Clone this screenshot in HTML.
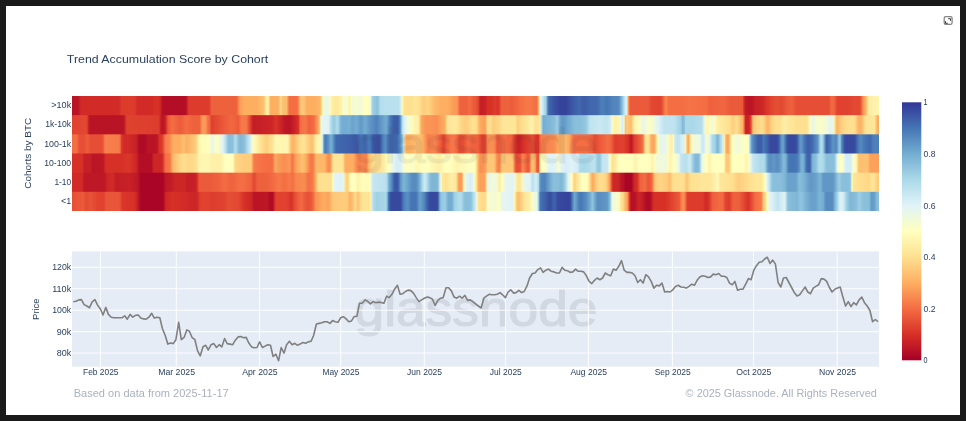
<!DOCTYPE html>
<html><head><meta charset="utf-8"><title>Trend Accumulation Score by Cohort</title>
<style>html,body{margin:0;padding:0;background:#1a1a1a;}svg{display:block;}text{font-family:"Liberation Sans",sans-serif;}</style>
</head><body>
<svg width="966" height="421" viewBox="0 0 966 421">
<defs><linearGradient id="r0" x1="0" x2="1" y1="0" y2="0"><stop offset="0.0000" stop-color="#b91326"/><stop offset="0.0019" stop-color="#b91326"/><stop offset="0.0037" stop-color="#b91326"/><stop offset="0.0056" stop-color="#b91326"/><stop offset="0.0074" stop-color="#b91426"/><stop offset="0.0093" stop-color="#c61f27"/><stop offset="0.0112" stop-color="#d22b27"/><stop offset="0.0130" stop-color="#d22b27"/><stop offset="0.0149" stop-color="#d22b27"/><stop offset="0.0167" stop-color="#d22b27"/><stop offset="0.0186" stop-color="#d22b27"/><stop offset="0.0204" stop-color="#d22b27"/><stop offset="0.0223" stop-color="#d22b27"/><stop offset="0.0242" stop-color="#d22b27"/><stop offset="0.0260" stop-color="#d22b27"/><stop offset="0.0279" stop-color="#d22b27"/><stop offset="0.0297" stop-color="#d22b27"/><stop offset="0.0316" stop-color="#d22b27"/><stop offset="0.0335" stop-color="#d22b27"/><stop offset="0.0353" stop-color="#d22b27"/><stop offset="0.0372" stop-color="#d22b27"/><stop offset="0.0390" stop-color="#d22b27"/><stop offset="0.0409" stop-color="#d22b27"/><stop offset="0.0428" stop-color="#d22b27"/><stop offset="0.0446" stop-color="#d22b27"/><stop offset="0.0465" stop-color="#d22b27"/><stop offset="0.0483" stop-color="#d22b27"/><stop offset="0.0502" stop-color="#d22b27"/><stop offset="0.0520" stop-color="#d22b27"/><stop offset="0.0539" stop-color="#d22b27"/><stop offset="0.0558" stop-color="#d22b27"/><stop offset="0.0576" stop-color="#d22b27"/><stop offset="0.0595" stop-color="#d83128"/><stop offset="0.0613" stop-color="#dc3b2c"/><stop offset="0.0632" stop-color="#dd3c2d"/><stop offset="0.0651" stop-color="#dd3c2d"/><stop offset="0.0669" stop-color="#dd3c2d"/><stop offset="0.0688" stop-color="#dd3c2d"/><stop offset="0.0706" stop-color="#dd3c2d"/><stop offset="0.0725" stop-color="#dd3c2d"/><stop offset="0.0743" stop-color="#dd3c2d"/><stop offset="0.0762" stop-color="#dd3c2d"/><stop offset="0.0781" stop-color="#dc3a2c"/><stop offset="0.0799" stop-color="#d62f27"/><stop offset="0.0818" stop-color="#d22b27"/><stop offset="0.0836" stop-color="#d22b27"/><stop offset="0.0855" stop-color="#d22b27"/><stop offset="0.0874" stop-color="#d22b27"/><stop offset="0.0892" stop-color="#d22b27"/><stop offset="0.0911" stop-color="#d22b27"/><stop offset="0.0929" stop-color="#d22b27"/><stop offset="0.0948" stop-color="#d22b27"/><stop offset="0.0967" stop-color="#d22b27"/><stop offset="0.0985" stop-color="#d22b27"/><stop offset="0.1004" stop-color="#d42d27"/><stop offset="0.1022" stop-color="#d73027"/><stop offset="0.1041" stop-color="#d73027"/><stop offset="0.1059" stop-color="#d73027"/><stop offset="0.1078" stop-color="#d73027"/><stop offset="0.1097" stop-color="#cd2627"/><stop offset="0.1115" stop-color="#b61126"/><stop offset="0.1134" stop-color="#b40e26"/><stop offset="0.1152" stop-color="#b40e26"/><stop offset="0.1171" stop-color="#b40e26"/><stop offset="0.1190" stop-color="#b40e26"/><stop offset="0.1208" stop-color="#b40e26"/><stop offset="0.1227" stop-color="#b40e26"/><stop offset="0.1245" stop-color="#b40e26"/><stop offset="0.1264" stop-color="#b40e26"/><stop offset="0.1283" stop-color="#b40e26"/><stop offset="0.1301" stop-color="#b40e26"/><stop offset="0.1320" stop-color="#b40e26"/><stop offset="0.1338" stop-color="#b40e26"/><stop offset="0.1357" stop-color="#b40e26"/><stop offset="0.1375" stop-color="#b40e26"/><stop offset="0.1394" stop-color="#b40e26"/><stop offset="0.1413" stop-color="#b61026"/><stop offset="0.1431" stop-color="#cd2727"/><stop offset="0.1450" stop-color="#dd3c2d"/><stop offset="0.1468" stop-color="#dd3c2d"/><stop offset="0.1487" stop-color="#dd3c2d"/><stop offset="0.1506" stop-color="#dd3c2d"/><stop offset="0.1524" stop-color="#dd3c2d"/><stop offset="0.1543" stop-color="#dd3c2d"/><stop offset="0.1561" stop-color="#dd3c2d"/><stop offset="0.1580" stop-color="#dd3c2d"/><stop offset="0.1599" stop-color="#dd3c2d"/><stop offset="0.1617" stop-color="#dd3c2d"/><stop offset="0.1636" stop-color="#dd3c2d"/><stop offset="0.1654" stop-color="#dd3c2d"/><stop offset="0.1673" stop-color="#dd3c2d"/><stop offset="0.1691" stop-color="#dd3c2d"/><stop offset="0.1710" stop-color="#e14531"/><stop offset="0.1729" stop-color="#ee613d"/><stop offset="0.1747" stop-color="#ee613d"/><stop offset="0.1766" stop-color="#ee613d"/><stop offset="0.1784" stop-color="#ee613d"/><stop offset="0.1803" stop-color="#ee613d"/><stop offset="0.1822" stop-color="#ee613d"/><stop offset="0.1840" stop-color="#ee613d"/><stop offset="0.1859" stop-color="#ee613d"/><stop offset="0.1877" stop-color="#ee613d"/><stop offset="0.1896" stop-color="#ee613d"/><stop offset="0.1914" stop-color="#ee613d"/><stop offset="0.1933" stop-color="#ee613d"/><stop offset="0.1952" stop-color="#ee613d"/><stop offset="0.1970" stop-color="#ee613d"/><stop offset="0.1989" stop-color="#ee613d"/><stop offset="0.2007" stop-color="#ee613d"/><stop offset="0.2026" stop-color="#ee613d"/><stop offset="0.2045" stop-color="#f0643f"/><stop offset="0.2063" stop-color="#f7854e"/><stop offset="0.2082" stop-color="#fb9d59"/><stop offset="0.2100" stop-color="#fba35c"/><stop offset="0.2119" stop-color="#fca95f"/><stop offset="0.2138" stop-color="#fdae61"/><stop offset="0.2156" stop-color="#fdae61"/><stop offset="0.2175" stop-color="#fdae61"/><stop offset="0.2193" stop-color="#fdae61"/><stop offset="0.2212" stop-color="#fdae61"/><stop offset="0.2230" stop-color="#fdae61"/><stop offset="0.2249" stop-color="#fdae61"/><stop offset="0.2268" stop-color="#fdae61"/><stop offset="0.2286" stop-color="#fdae61"/><stop offset="0.2305" stop-color="#fdb063"/><stop offset="0.2323" stop-color="#fdb567"/><stop offset="0.2342" stop-color="#fdb96b"/><stop offset="0.2361" stop-color="#fdbd6f"/><stop offset="0.2379" stop-color="#fdc375"/><stop offset="0.2398" stop-color="#fee191"/><stop offset="0.2416" stop-color="#feefa7"/><stop offset="0.2435" stop-color="#feeba1"/><stop offset="0.2454" stop-color="#fdb668"/><stop offset="0.2472" stop-color="#fdae61"/><stop offset="0.2491" stop-color="#fdae61"/><stop offset="0.2509" stop-color="#fdae61"/><stop offset="0.2528" stop-color="#fdae61"/><stop offset="0.2546" stop-color="#fdae61"/><stop offset="0.2565" stop-color="#fdb96b"/><stop offset="0.2584" stop-color="#fed788"/><stop offset="0.2602" stop-color="#fecb7c"/><stop offset="0.2621" stop-color="#fdbd6f"/><stop offset="0.2639" stop-color="#fdbd6f"/><stop offset="0.2658" stop-color="#fdbd6f"/><stop offset="0.2677" stop-color="#f98f53"/><stop offset="0.2695" stop-color="#f46d43"/><stop offset="0.2714" stop-color="#f46d43"/><stop offset="0.2732" stop-color="#f46d43"/><stop offset="0.2751" stop-color="#f46d43"/><stop offset="0.2770" stop-color="#f46d43"/><stop offset="0.2788" stop-color="#f46d43"/><stop offset="0.2807" stop-color="#f88a50"/><stop offset="0.2825" stop-color="#fdbc6e"/><stop offset="0.2844" stop-color="#fdc677"/><stop offset="0.2862" stop-color="#feca7b"/><stop offset="0.2881" stop-color="#fdc172"/><stop offset="0.2900" stop-color="#fdb669"/><stop offset="0.2918" stop-color="#fdae61"/><stop offset="0.2937" stop-color="#fdae61"/><stop offset="0.2955" stop-color="#fdae61"/><stop offset="0.2974" stop-color="#fdae61"/><stop offset="0.2993" stop-color="#fdae61"/><stop offset="0.3011" stop-color="#fdae61"/><stop offset="0.3030" stop-color="#fdb062"/><stop offset="0.3048" stop-color="#fdb365"/><stop offset="0.3067" stop-color="#fdb668"/><stop offset="0.3086" stop-color="#fec779"/><stop offset="0.3104" stop-color="#fff5af"/><stop offset="0.3123" stop-color="#f3fbd4"/><stop offset="0.3141" stop-color="#eaf7e6"/><stop offset="0.3160" stop-color="#e9f7e7"/><stop offset="0.3178" stop-color="#ebf7e4"/><stop offset="0.3197" stop-color="#fcfec5"/><stop offset="0.3216" stop-color="#fff1a9"/><stop offset="0.3234" stop-color="#feeca2"/><stop offset="0.3253" stop-color="#fee99d"/><stop offset="0.3271" stop-color="#fee79b"/><stop offset="0.3290" stop-color="#feea9f"/><stop offset="0.3309" stop-color="#feeda4"/><stop offset="0.3327" stop-color="#fff1a9"/><stop offset="0.3346" stop-color="#fff4ae"/><stop offset="0.3364" stop-color="#fffebe"/><stop offset="0.3383" stop-color="#eff9dc"/><stop offset="0.3401" stop-color="#f6fbd0"/><stop offset="0.3420" stop-color="#fffcbb"/><stop offset="0.3439" stop-color="#fef0a8"/><stop offset="0.3457" stop-color="#fffebe"/><stop offset="0.3476" stop-color="#f5fbd1"/><stop offset="0.3494" stop-color="#f5fbd1"/><stop offset="0.3513" stop-color="#f5fbd2"/><stop offset="0.3532" stop-color="#f4fbd3"/><stop offset="0.3550" stop-color="#f4fbd4"/><stop offset="0.3569" stop-color="#f3fad5"/><stop offset="0.3587" stop-color="#f3fad5"/><stop offset="0.3606" stop-color="#f7fcce"/><stop offset="0.3625" stop-color="#feffc0"/><stop offset="0.3643" stop-color="#ffffbf"/><stop offset="0.3662" stop-color="#ffffbf"/><stop offset="0.3680" stop-color="#ffffbf"/><stop offset="0.3699" stop-color="#f0f9db"/><stop offset="0.3717" stop-color="#a9d8e8"/><stop offset="0.3736" stop-color="#9bcce2"/><stop offset="0.3755" stop-color="#95c8e0"/><stop offset="0.3773" stop-color="#90c3dd"/><stop offset="0.3792" stop-color="#8ec2dc"/><stop offset="0.3810" stop-color="#a9d7e8"/><stop offset="0.3829" stop-color="#b6deec"/><stop offset="0.3848" stop-color="#b6dfec"/><stop offset="0.3866" stop-color="#b7dfec"/><stop offset="0.3885" stop-color="#b7dfec"/><stop offset="0.3903" stop-color="#b7dfed"/><stop offset="0.3922" stop-color="#b8dfed"/><stop offset="0.3941" stop-color="#b8dfed"/><stop offset="0.3959" stop-color="#b9e0ed"/><stop offset="0.3978" stop-color="#b9e0ed"/><stop offset="0.3996" stop-color="#b9e0ed"/><stop offset="0.4015" stop-color="#bae0ed"/><stop offset="0.4033" stop-color="#bae0ed"/><stop offset="0.4052" stop-color="#bbe1ed"/><stop offset="0.4071" stop-color="#d2ecf4"/><stop offset="0.4089" stop-color="#fffbb8"/><stop offset="0.4108" stop-color="#fee99e"/><stop offset="0.4126" stop-color="#fee192"/><stop offset="0.4145" stop-color="#fee090"/><stop offset="0.4164" stop-color="#fee090"/><stop offset="0.4182" stop-color="#fee090"/><stop offset="0.4201" stop-color="#fee091"/><stop offset="0.4219" stop-color="#fee294"/><stop offset="0.4238" stop-color="#fee597"/><stop offset="0.4257" stop-color="#fee698"/><stop offset="0.4275" stop-color="#fee495"/><stop offset="0.4294" stop-color="#fee192"/><stop offset="0.4312" stop-color="#fedd8d"/><stop offset="0.4331" stop-color="#fed687"/><stop offset="0.4349" stop-color="#fecf80"/><stop offset="0.4368" stop-color="#fece7f"/><stop offset="0.4387" stop-color="#fed182"/><stop offset="0.4405" stop-color="#fed585"/><stop offset="0.4424" stop-color="#fed282"/><stop offset="0.4442" stop-color="#fecb7c"/><stop offset="0.4461" stop-color="#fdc576"/><stop offset="0.4480" stop-color="#fdbe70"/><stop offset="0.4498" stop-color="#fdba6d"/><stop offset="0.4517" stop-color="#fdb76a"/><stop offset="0.4535" stop-color="#fdb467"/><stop offset="0.4554" stop-color="#fdb164"/><stop offset="0.4572" stop-color="#fdae61"/><stop offset="0.4591" stop-color="#fdae61"/><stop offset="0.4610" stop-color="#fdae61"/><stop offset="0.4628" stop-color="#fdae61"/><stop offset="0.4647" stop-color="#fdae61"/><stop offset="0.4665" stop-color="#fdac60"/><stop offset="0.4684" stop-color="#fca75e"/><stop offset="0.4703" stop-color="#fba25b"/><stop offset="0.4721" stop-color="#fb9d59"/><stop offset="0.4740" stop-color="#fa9a58"/><stop offset="0.4758" stop-color="#fa9a58"/><stop offset="0.4777" stop-color="#f99254"/><stop offset="0.4796" stop-color="#f46d43"/><stop offset="0.4814" stop-color="#ee613d"/><stop offset="0.4833" stop-color="#ee613d"/><stop offset="0.4851" stop-color="#ee613d"/><stop offset="0.4870" stop-color="#ee613d"/><stop offset="0.4888" stop-color="#ee613e"/><stop offset="0.4907" stop-color="#f16740"/><stop offset="0.4926" stop-color="#f36c42"/><stop offset="0.4944" stop-color="#f16640"/><stop offset="0.4963" stop-color="#ee603d"/><stop offset="0.4981" stop-color="#ec5b3b"/><stop offset="0.5000" stop-color="#e95739"/><stop offset="0.5019" stop-color="#e75236"/><stop offset="0.5037" stop-color="#df412f"/><stop offset="0.5056" stop-color="#c82227"/><stop offset="0.5074" stop-color="#c41e27"/><stop offset="0.5093" stop-color="#c51f27"/><stop offset="0.5112" stop-color="#c72027"/><stop offset="0.5130" stop-color="#cc2527"/><stop offset="0.5149" stop-color="#d73027"/><stop offset="0.5167" stop-color="#d73027"/><stop offset="0.5186" stop-color="#d73027"/><stop offset="0.5204" stop-color="#d83228"/><stop offset="0.5223" stop-color="#db382b"/><stop offset="0.5242" stop-color="#dc3b2c"/><stop offset="0.5260" stop-color="#da372a"/><stop offset="0.5279" stop-color="#d83228"/><stop offset="0.5297" stop-color="#de3f2e"/><stop offset="0.5316" stop-color="#ed5d3c"/><stop offset="0.5335" stop-color="#ee613d"/><stop offset="0.5353" stop-color="#ee613d"/><stop offset="0.5372" stop-color="#ee613d"/><stop offset="0.5390" stop-color="#ee613d"/><stop offset="0.5409" stop-color="#ee613d"/><stop offset="0.5428" stop-color="#ed5e3c"/><stop offset="0.5446" stop-color="#ec5c3b"/><stop offset="0.5465" stop-color="#ed5d3c"/><stop offset="0.5483" stop-color="#ee613d"/><stop offset="0.5502" stop-color="#f0643f"/><stop offset="0.5520" stop-color="#f16740"/><stop offset="0.5539" stop-color="#f36a42"/><stop offset="0.5558" stop-color="#f46d43"/><stop offset="0.5576" stop-color="#f47044"/><stop offset="0.5595" stop-color="#f57346"/><stop offset="0.5613" stop-color="#f57647"/><stop offset="0.5632" stop-color="#f67848"/><stop offset="0.5651" stop-color="#f67949"/><stop offset="0.5669" stop-color="#f57748"/><stop offset="0.5688" stop-color="#f57647"/><stop offset="0.5706" stop-color="#f57446"/><stop offset="0.5725" stop-color="#f57245"/><stop offset="0.5743" stop-color="#f47044"/><stop offset="0.5762" stop-color="#f46e44"/><stop offset="0.5781" stop-color="#fdb466"/><stop offset="0.5799" stop-color="#e8f6ea"/><stop offset="0.5818" stop-color="#dcf1f7"/><stop offset="0.5836" stop-color="#cae8f2"/><stop offset="0.5855" stop-color="#aedbea"/><stop offset="0.5874" stop-color="#a4d3e6"/><stop offset="0.5892" stop-color="#598cc0"/><stop offset="0.5911" stop-color="#4064ac"/><stop offset="0.5929" stop-color="#3e5fa9"/><stop offset="0.5948" stop-color="#3c59a6"/><stop offset="0.5967" stop-color="#3b55a4"/><stop offset="0.5985" stop-color="#3951a2"/><stop offset="0.6004" stop-color="#384da0"/><stop offset="0.6022" stop-color="#37499e"/><stop offset="0.6041" stop-color="#36459c"/><stop offset="0.6059" stop-color="#35439b"/><stop offset="0.6078" stop-color="#35439b"/><stop offset="0.6097" stop-color="#35439b"/><stop offset="0.6115" stop-color="#35439b"/><stop offset="0.6134" stop-color="#36469d"/><stop offset="0.6152" stop-color="#384b9f"/><stop offset="0.6171" stop-color="#3950a2"/><stop offset="0.6190" stop-color="#3b55a4"/><stop offset="0.6208" stop-color="#3c59a6"/><stop offset="0.6227" stop-color="#3d5da8"/><stop offset="0.6245" stop-color="#3f61aa"/><stop offset="0.6264" stop-color="#4065ac"/><stop offset="0.6283" stop-color="#4168ad"/><stop offset="0.6301" stop-color="#4065ac"/><stop offset="0.6320" stop-color="#3f61aa"/><stop offset="0.6338" stop-color="#3e5ea9"/><stop offset="0.6357" stop-color="#3d5da8"/><stop offset="0.6375" stop-color="#3e60aa"/><stop offset="0.6394" stop-color="#3f63ab"/><stop offset="0.6413" stop-color="#4067ad"/><stop offset="0.6431" stop-color="#4168ae"/><stop offset="0.6450" stop-color="#4168ae"/><stop offset="0.6468" stop-color="#4168ae"/><stop offset="0.6487" stop-color="#4168ae"/><stop offset="0.6506" stop-color="#4169ae"/><stop offset="0.6524" stop-color="#436fb1"/><stop offset="0.6543" stop-color="#4777b5"/><stop offset="0.6561" stop-color="#4d7eb9"/><stop offset="0.6580" stop-color="#4c7eb8"/><stop offset="0.6599" stop-color="#4a7bb7"/><stop offset="0.6617" stop-color="#4778b5"/><stop offset="0.6636" stop-color="#4676b4"/><stop offset="0.6654" stop-color="#497ab6"/><stop offset="0.6673" stop-color="#4d7eb9"/><stop offset="0.6691" stop-color="#5082bb"/><stop offset="0.6710" stop-color="#5386bd"/><stop offset="0.6729" stop-color="#5386bd"/><stop offset="0.6747" stop-color="#5386bd"/><stop offset="0.6766" stop-color="#5386bd"/><stop offset="0.6784" stop-color="#5d92c3"/><stop offset="0.6803" stop-color="#74add1"/><stop offset="0.6822" stop-color="#90c3dd"/><stop offset="0.6840" stop-color="#b3ddeb"/><stop offset="0.6859" stop-color="#d5eef5"/><stop offset="0.6877" stop-color="#d7eff5"/><stop offset="0.6896" stop-color="#fa9555"/><stop offset="0.6914" stop-color="#eb5b3b"/><stop offset="0.6933" stop-color="#eb5b3b"/><stop offset="0.6952" stop-color="#eb5b3b"/><stop offset="0.6970" stop-color="#eb5b3b"/><stop offset="0.6989" stop-color="#eb5b3b"/><stop offset="0.7007" stop-color="#eb5b3b"/><stop offset="0.7026" stop-color="#eb5b3b"/><stop offset="0.7045" stop-color="#eb5b3b"/><stop offset="0.7063" stop-color="#eb5b3b"/><stop offset="0.7082" stop-color="#eb5b3b"/><stop offset="0.7100" stop-color="#eb5b3b"/><stop offset="0.7119" stop-color="#eb5b3b"/><stop offset="0.7138" stop-color="#eb5a3a"/><stop offset="0.7156" stop-color="#e85337"/><stop offset="0.7175" stop-color="#e34a33"/><stop offset="0.7193" stop-color="#e24832"/><stop offset="0.7212" stop-color="#e24731"/><stop offset="0.7230" stop-color="#e14631"/><stop offset="0.7249" stop-color="#e14531"/><stop offset="0.7268" stop-color="#e04430"/><stop offset="0.7286" stop-color="#e04330"/><stop offset="0.7305" stop-color="#e34932"/><stop offset="0.7323" stop-color="#ed5e3c"/><stop offset="0.7342" stop-color="#f57546"/><stop offset="0.7361" stop-color="#f8884f"/><stop offset="0.7379" stop-color="#f67949"/><stop offset="0.7398" stop-color="#f46d43"/><stop offset="0.7416" stop-color="#f46d43"/><stop offset="0.7435" stop-color="#f46d43"/><stop offset="0.7454" stop-color="#f46d43"/><stop offset="0.7472" stop-color="#f46d43"/><stop offset="0.7491" stop-color="#f46d43"/><stop offset="0.7509" stop-color="#f46d43"/><stop offset="0.7528" stop-color="#f46d43"/><stop offset="0.7546" stop-color="#f46d43"/><stop offset="0.7565" stop-color="#f46e44"/><stop offset="0.7584" stop-color="#f47044"/><stop offset="0.7602" stop-color="#f57145"/><stop offset="0.7621" stop-color="#f57245"/><stop offset="0.7639" stop-color="#f57346"/><stop offset="0.7658" stop-color="#f57346"/><stop offset="0.7677" stop-color="#f57245"/><stop offset="0.7695" stop-color="#f57245"/><stop offset="0.7714" stop-color="#f57145"/><stop offset="0.7732" stop-color="#f57145"/><stop offset="0.7751" stop-color="#f47045"/><stop offset="0.7770" stop-color="#f47044"/><stop offset="0.7788" stop-color="#f46f44"/><stop offset="0.7807" stop-color="#f46f44"/><stop offset="0.7825" stop-color="#f46e44"/><stop offset="0.7844" stop-color="#f46e43"/><stop offset="0.7862" stop-color="#f46d43"/><stop offset="0.7881" stop-color="#f26841"/><stop offset="0.7900" stop-color="#ef623e"/><stop offset="0.7918" stop-color="#ee613e"/><stop offset="0.7937" stop-color="#ef623e"/><stop offset="0.7955" stop-color="#ef633e"/><stop offset="0.7974" stop-color="#ef633f"/><stop offset="0.7993" stop-color="#f0643f"/><stop offset="0.8011" stop-color="#f0653f"/><stop offset="0.8030" stop-color="#f0653f"/><stop offset="0.8048" stop-color="#f16640"/><stop offset="0.8067" stop-color="#f16640"/><stop offset="0.8086" stop-color="#f16640"/><stop offset="0.8104" stop-color="#ef633e"/><stop offset="0.8123" stop-color="#ee5f3d"/><stop offset="0.8141" stop-color="#ec5c3b"/><stop offset="0.8160" stop-color="#eb5b3b"/><stop offset="0.8178" stop-color="#eb5b3b"/><stop offset="0.8197" stop-color="#eb5b3b"/><stop offset="0.8216" stop-color="#eb5b3b"/><stop offset="0.8234" stop-color="#eb5b3b"/><stop offset="0.8253" stop-color="#eb5b3b"/><stop offset="0.8271" stop-color="#eb5b3b"/><stop offset="0.8290" stop-color="#eb5b3b"/><stop offset="0.8309" stop-color="#e95739"/><stop offset="0.8327" stop-color="#d52e27"/><stop offset="0.8346" stop-color="#c21c27"/><stop offset="0.8364" stop-color="#bf1927"/><stop offset="0.8383" stop-color="#bd1726"/><stop offset="0.8401" stop-color="#bb1526"/><stop offset="0.8420" stop-color="#bb1526"/><stop offset="0.8439" stop-color="#c01927"/><stop offset="0.8457" stop-color="#c51e27"/><stop offset="0.8476" stop-color="#c82227"/><stop offset="0.8494" stop-color="#ca2327"/><stop offset="0.8513" stop-color="#cb2427"/><stop offset="0.8532" stop-color="#cc2527"/><stop offset="0.8550" stop-color="#cc2627"/><stop offset="0.8569" stop-color="#d02927"/><stop offset="0.8587" stop-color="#d73027"/><stop offset="0.8606" stop-color="#da3529"/><stop offset="0.8625" stop-color="#dc3a2c"/><stop offset="0.8643" stop-color="#de3f2e"/><stop offset="0.8662" stop-color="#e04330"/><stop offset="0.8680" stop-color="#e24631"/><stop offset="0.8699" stop-color="#e34a33"/><stop offset="0.8717" stop-color="#e54d34"/><stop offset="0.8736" stop-color="#e54e35"/><stop offset="0.8755" stop-color="#e44c34"/><stop offset="0.8773" stop-color="#e44b33"/><stop offset="0.8792" stop-color="#e34932"/><stop offset="0.8810" stop-color="#e44c34"/><stop offset="0.8829" stop-color="#e65036"/><stop offset="0.8848" stop-color="#e95538"/><stop offset="0.8866" stop-color="#eb5a3a"/><stop offset="0.8885" stop-color="#ec5d3b"/><stop offset="0.8903" stop-color="#ed5f3c"/><stop offset="0.8922" stop-color="#ee603d"/><stop offset="0.8941" stop-color="#eb5a3a"/><stop offset="0.8959" stop-color="#e85438"/><stop offset="0.8978" stop-color="#e64f35"/><stop offset="0.8996" stop-color="#e64e35"/><stop offset="0.9015" stop-color="#e64e35"/><stop offset="0.9033" stop-color="#e64e35"/><stop offset="0.9052" stop-color="#e64e35"/><stop offset="0.9071" stop-color="#e64e35"/><stop offset="0.9089" stop-color="#e64e35"/><stop offset="0.9108" stop-color="#e64e35"/><stop offset="0.9126" stop-color="#e64e35"/><stop offset="0.9145" stop-color="#e64e35"/><stop offset="0.9164" stop-color="#e64e35"/><stop offset="0.9182" stop-color="#e64e35"/><stop offset="0.9201" stop-color="#e64e35"/><stop offset="0.9219" stop-color="#e64e35"/><stop offset="0.9238" stop-color="#e64e35"/><stop offset="0.9257" stop-color="#e64e35"/><stop offset="0.9275" stop-color="#e64e35"/><stop offset="0.9294" stop-color="#e64e35"/><stop offset="0.9312" stop-color="#e64e35"/><stop offset="0.9331" stop-color="#e64e35"/><stop offset="0.9349" stop-color="#e64e35"/><stop offset="0.9368" stop-color="#e64e35"/><stop offset="0.9387" stop-color="#e85438"/><stop offset="0.9405" stop-color="#f16840"/><stop offset="0.9424" stop-color="#f26941"/><stop offset="0.9442" stop-color="#f0643f"/><stop offset="0.9461" stop-color="#ea5839"/><stop offset="0.9480" stop-color="#e14430"/><stop offset="0.9498" stop-color="#e0422f"/><stop offset="0.9517" stop-color="#e0422f"/><stop offset="0.9535" stop-color="#e0422f"/><stop offset="0.9554" stop-color="#e0422f"/><stop offset="0.9572" stop-color="#e0422f"/><stop offset="0.9591" stop-color="#e0422f"/><stop offset="0.9610" stop-color="#e0422f"/><stop offset="0.9628" stop-color="#e04430"/><stop offset="0.9647" stop-color="#e14531"/><stop offset="0.9665" stop-color="#e24732"/><stop offset="0.9684" stop-color="#e34832"/><stop offset="0.9703" stop-color="#e34832"/><stop offset="0.9721" stop-color="#e34832"/><stop offset="0.9740" stop-color="#e34832"/><stop offset="0.9758" stop-color="#e34832"/><stop offset="0.9777" stop-color="#ea5739"/><stop offset="0.9796" stop-color="#f7844e"/><stop offset="0.9814" stop-color="#fb9e5a"/><stop offset="0.9833" stop-color="#fdb063"/><stop offset="0.9851" stop-color="#fecc7d"/><stop offset="0.9870" stop-color="#feeaa0"/><stop offset="0.9888" stop-color="#feeea5"/><stop offset="0.9907" stop-color="#feefa7"/><stop offset="0.9926" stop-color="#fff0a9"/><stop offset="0.9944" stop-color="#fff2ab"/><stop offset="0.9963" stop-color="#fff3ad"/><stop offset="0.9981" stop-color="#fff4af"/><stop offset="1.0000" stop-color="#fff6b1"/></linearGradient>
<linearGradient id="r1" x1="0" x2="1" y1="0" y2="0"><stop offset="0.0000" stop-color="#e0422f"/><stop offset="0.0019" stop-color="#e04330"/><stop offset="0.0037" stop-color="#e04430"/><stop offset="0.0056" stop-color="#e14430"/><stop offset="0.0074" stop-color="#e14531"/><stop offset="0.0093" stop-color="#e14531"/><stop offset="0.0112" stop-color="#e14631"/><stop offset="0.0130" stop-color="#e24731"/><stop offset="0.0149" stop-color="#e24732"/><stop offset="0.0167" stop-color="#e24832"/><stop offset="0.0186" stop-color="#e14430"/><stop offset="0.0204" stop-color="#c82227"/><stop offset="0.0223" stop-color="#b91326"/><stop offset="0.0242" stop-color="#b91326"/><stop offset="0.0260" stop-color="#b91326"/><stop offset="0.0279" stop-color="#b91326"/><stop offset="0.0297" stop-color="#b91326"/><stop offset="0.0316" stop-color="#b91326"/><stop offset="0.0335" stop-color="#b91326"/><stop offset="0.0353" stop-color="#b91326"/><stop offset="0.0372" stop-color="#b91326"/><stop offset="0.0390" stop-color="#b91326"/><stop offset="0.0409" stop-color="#b91326"/><stop offset="0.0428" stop-color="#b91326"/><stop offset="0.0446" stop-color="#b91326"/><stop offset="0.0465" stop-color="#b91326"/><stop offset="0.0483" stop-color="#b91326"/><stop offset="0.0502" stop-color="#b91326"/><stop offset="0.0520" stop-color="#b91326"/><stop offset="0.0539" stop-color="#b91326"/><stop offset="0.0558" stop-color="#b91326"/><stop offset="0.0576" stop-color="#b91326"/><stop offset="0.0595" stop-color="#b91326"/><stop offset="0.0613" stop-color="#b91326"/><stop offset="0.0632" stop-color="#b91326"/><stop offset="0.0651" stop-color="#c21c27"/><stop offset="0.0669" stop-color="#db392b"/><stop offset="0.0688" stop-color="#e0422f"/><stop offset="0.0706" stop-color="#df422f"/><stop offset="0.0725" stop-color="#df422f"/><stop offset="0.0743" stop-color="#df412f"/><stop offset="0.0762" stop-color="#df412f"/><stop offset="0.0781" stop-color="#df412f"/><stop offset="0.0799" stop-color="#df402f"/><stop offset="0.0818" stop-color="#df402e"/><stop offset="0.0836" stop-color="#df402e"/><stop offset="0.0855" stop-color="#de402e"/><stop offset="0.0874" stop-color="#de3f2e"/><stop offset="0.0892" stop-color="#de3f2e"/><stop offset="0.0911" stop-color="#de3f2e"/><stop offset="0.0929" stop-color="#de3e2e"/><stop offset="0.0948" stop-color="#de3e2e"/><stop offset="0.0967" stop-color="#de3e2d"/><stop offset="0.0985" stop-color="#dd3e2d"/><stop offset="0.1004" stop-color="#dd3d2d"/><stop offset="0.1022" stop-color="#dd3d2d"/><stop offset="0.1041" stop-color="#dd3d2d"/><stop offset="0.1059" stop-color="#dd3d2d"/><stop offset="0.1078" stop-color="#dc3a2b"/><stop offset="0.1097" stop-color="#c82127"/><stop offset="0.1115" stop-color="#bb1526"/><stop offset="0.1134" stop-color="#be1827"/><stop offset="0.1152" stop-color="#c21c27"/><stop offset="0.1171" stop-color="#d93529"/><stop offset="0.1190" stop-color="#eb5a3a"/><stop offset="0.1208" stop-color="#ef623e"/><stop offset="0.1227" stop-color="#f26941"/><stop offset="0.1245" stop-color="#f36c42"/><stop offset="0.1264" stop-color="#f26941"/><stop offset="0.1283" stop-color="#f06640"/><stop offset="0.1301" stop-color="#ef623e"/><stop offset="0.1320" stop-color="#ed5f3d"/><stop offset="0.1338" stop-color="#ec5c3b"/><stop offset="0.1357" stop-color="#ed5e3c"/><stop offset="0.1375" stop-color="#ef623e"/><stop offset="0.1394" stop-color="#f16740"/><stop offset="0.1413" stop-color="#f36c42"/><stop offset="0.1431" stop-color="#f36b42"/><stop offset="0.1450" stop-color="#f26841"/><stop offset="0.1468" stop-color="#f16640"/><stop offset="0.1487" stop-color="#ef633f"/><stop offset="0.1506" stop-color="#ee613e"/><stop offset="0.1524" stop-color="#ee613d"/><stop offset="0.1543" stop-color="#ee613d"/><stop offset="0.1561" stop-color="#ee613d"/><stop offset="0.1580" stop-color="#ef623e"/><stop offset="0.1599" stop-color="#f77f4b"/><stop offset="0.1617" stop-color="#fa9a58"/><stop offset="0.1636" stop-color="#fa9a58"/><stop offset="0.1654" stop-color="#fa9857"/><stop offset="0.1673" stop-color="#f67c4a"/><stop offset="0.1691" stop-color="#f46d43"/><stop offset="0.1710" stop-color="#ee613e"/><stop offset="0.1729" stop-color="#de3f2e"/><stop offset="0.1747" stop-color="#e04330"/><stop offset="0.1766" stop-color="#e14631"/><stop offset="0.1784" stop-color="#e34932"/><stop offset="0.1803" stop-color="#e44c34"/><stop offset="0.1822" stop-color="#e64f35"/><stop offset="0.1840" stop-color="#e75337"/><stop offset="0.1859" stop-color="#e95638"/><stop offset="0.1877" stop-color="#eb593a"/><stop offset="0.1896" stop-color="#ec5c3b"/><stop offset="0.1914" stop-color="#ed5e3c"/><stop offset="0.1933" stop-color="#ee613e"/><stop offset="0.1952" stop-color="#f0643f"/><stop offset="0.1970" stop-color="#f16640"/><stop offset="0.1989" stop-color="#f0653f"/><stop offset="0.2007" stop-color="#ef633e"/><stop offset="0.2026" stop-color="#ee603d"/><stop offset="0.2045" stop-color="#ed5d3c"/><stop offset="0.2063" stop-color="#ec5c3b"/><stop offset="0.2082" stop-color="#f36a42"/><stop offset="0.2100" stop-color="#f67848"/><stop offset="0.2119" stop-color="#f67a49"/><stop offset="0.2138" stop-color="#f67a49"/><stop offset="0.2156" stop-color="#f67949"/><stop offset="0.2175" stop-color="#f16841"/><stop offset="0.2193" stop-color="#e75236"/><stop offset="0.2212" stop-color="#de3e2e"/><stop offset="0.2230" stop-color="#cf2827"/><stop offset="0.2249" stop-color="#c31d27"/><stop offset="0.2268" stop-color="#c41e27"/><stop offset="0.2286" stop-color="#c51f27"/><stop offset="0.2305" stop-color="#c61f27"/><stop offset="0.2323" stop-color="#c62027"/><stop offset="0.2342" stop-color="#c72127"/><stop offset="0.2361" stop-color="#c82127"/><stop offset="0.2379" stop-color="#c92227"/><stop offset="0.2398" stop-color="#c92327"/><stop offset="0.2416" stop-color="#ca2427"/><stop offset="0.2435" stop-color="#cb2427"/><stop offset="0.2454" stop-color="#cc2527"/><stop offset="0.2472" stop-color="#cc2627"/><stop offset="0.2491" stop-color="#ce2827"/><stop offset="0.2509" stop-color="#d62f27"/><stop offset="0.2528" stop-color="#d93429"/><stop offset="0.2546" stop-color="#d62f27"/><stop offset="0.2565" stop-color="#d02a27"/><stop offset="0.2584" stop-color="#cb2527"/><stop offset="0.2602" stop-color="#c62027"/><stop offset="0.2621" stop-color="#c11b27"/><stop offset="0.2639" stop-color="#bd1726"/><stop offset="0.2658" stop-color="#bc1626"/><stop offset="0.2677" stop-color="#bb1526"/><stop offset="0.2695" stop-color="#ba1426"/><stop offset="0.2714" stop-color="#bc1726"/><stop offset="0.2732" stop-color="#c21c27"/><stop offset="0.2751" stop-color="#c72127"/><stop offset="0.2770" stop-color="#cc2627"/><stop offset="0.2788" stop-color="#d22b27"/><stop offset="0.2807" stop-color="#d93529"/><stop offset="0.2825" stop-color="#f16740"/><stop offset="0.2844" stop-color="#f47045"/><stop offset="0.2862" stop-color="#f57446"/><stop offset="0.2881" stop-color="#f57748"/><stop offset="0.2900" stop-color="#f57747"/><stop offset="0.2918" stop-color="#f36a42"/><stop offset="0.2937" stop-color="#ef623e"/><stop offset="0.2955" stop-color="#f0653f"/><stop offset="0.2974" stop-color="#f26841"/><stop offset="0.2993" stop-color="#f36b42"/><stop offset="0.3011" stop-color="#f67848"/><stop offset="0.3030" stop-color="#f99053"/><stop offset="0.3048" stop-color="#fba25c"/><stop offset="0.3067" stop-color="#fdc576"/><stop offset="0.3086" stop-color="#f2fad7"/><stop offset="0.3104" stop-color="#e5f5ef"/><stop offset="0.3123" stop-color="#e4f4f1"/><stop offset="0.3141" stop-color="#e3f4f3"/><stop offset="0.3160" stop-color="#e1f4f6"/><stop offset="0.3178" stop-color="#def2f7"/><stop offset="0.3197" stop-color="#c6e6f0"/><stop offset="0.3216" stop-color="#acd9e9"/><stop offset="0.3234" stop-color="#9fcfe4"/><stop offset="0.3253" stop-color="#99cbe1"/><stop offset="0.3271" stop-color="#a9d7e8"/><stop offset="0.3290" stop-color="#afdbea"/><stop offset="0.3309" stop-color="#99cbe1"/><stop offset="0.3327" stop-color="#82b8d7"/><stop offset="0.3346" stop-color="#74add1"/><stop offset="0.3364" stop-color="#74add1"/><stop offset="0.3383" stop-color="#74add1"/><stop offset="0.3401" stop-color="#74add1"/><stop offset="0.3420" stop-color="#76afd2"/><stop offset="0.3439" stop-color="#77b0d3"/><stop offset="0.3457" stop-color="#70a9cf"/><stop offset="0.3476" stop-color="#6ca3cc"/><stop offset="0.3494" stop-color="#6ea6ce"/><stop offset="0.3513" stop-color="#72aad0"/><stop offset="0.3532" stop-color="#72aad0"/><stop offset="0.3550" stop-color="#6ca3cc"/><stop offset="0.3569" stop-color="#659bc8"/><stop offset="0.3587" stop-color="#649ac7"/><stop offset="0.3606" stop-color="#6ba2cb"/><stop offset="0.3625" stop-color="#71aacf"/><stop offset="0.3643" stop-color="#70a9cf"/><stop offset="0.3662" stop-color="#6aa1cb"/><stop offset="0.3680" stop-color="#6399c7"/><stop offset="0.3699" stop-color="#5f94c4"/><stop offset="0.3717" stop-color="#5c90c2"/><stop offset="0.3736" stop-color="#588cc0"/><stop offset="0.3755" stop-color="#5486bd"/><stop offset="0.3773" stop-color="#5082bb"/><stop offset="0.3792" stop-color="#5588be"/><stop offset="0.3810" stop-color="#5b90c2"/><stop offset="0.3829" stop-color="#6297c6"/><stop offset="0.3848" stop-color="#679dc9"/><stop offset="0.3866" stop-color="#6ca3cc"/><stop offset="0.3885" stop-color="#70a9cf"/><stop offset="0.3903" stop-color="#6ea5cd"/><stop offset="0.3922" stop-color="#5b8fc1"/><stop offset="0.3941" stop-color="#4b7cb8"/><stop offset="0.3959" stop-color="#436fb1"/><stop offset="0.3978" stop-color="#3f62ab"/><stop offset="0.3996" stop-color="#3d5ca8"/><stop offset="0.4015" stop-color="#3d5ca8"/><stop offset="0.4033" stop-color="#3d5ca8"/><stop offset="0.4052" stop-color="#436db0"/><stop offset="0.4071" stop-color="#6196c5"/><stop offset="0.4089" stop-color="#a7d6e7"/><stop offset="0.4108" stop-color="#ceeaf3"/><stop offset="0.4126" stop-color="#dff2f8"/><stop offset="0.4145" stop-color="#e7f6eb"/><stop offset="0.4164" stop-color="#f7fcce"/><stop offset="0.4182" stop-color="#f9fdc9"/><stop offset="0.4201" stop-color="#f3fad5"/><stop offset="0.4219" stop-color="#fffcba"/><stop offset="0.4238" stop-color="#fff5af"/><stop offset="0.4257" stop-color="#fff3ad"/><stop offset="0.4275" stop-color="#fff1aa"/><stop offset="0.4294" stop-color="#feeea5"/><stop offset="0.4312" stop-color="#fecc7d"/><stop offset="0.4331" stop-color="#fcaa5f"/><stop offset="0.4349" stop-color="#fba15b"/><stop offset="0.4368" stop-color="#fa9857"/><stop offset="0.4387" stop-color="#f99455"/><stop offset="0.4405" stop-color="#f99455"/><stop offset="0.4424" stop-color="#f99455"/><stop offset="0.4442" stop-color="#f99455"/><stop offset="0.4461" stop-color="#f99354"/><stop offset="0.4480" stop-color="#f99154"/><stop offset="0.4498" stop-color="#f98f53"/><stop offset="0.4517" stop-color="#f98e52"/><stop offset="0.4535" stop-color="#f99455"/><stop offset="0.4554" stop-color="#fa9b58"/><stop offset="0.4572" stop-color="#fba15b"/><stop offset="0.4591" stop-color="#fca65d"/><stop offset="0.4610" stop-color="#fdab5f"/><stop offset="0.4628" stop-color="#fdba6c"/><stop offset="0.4647" stop-color="#fee090"/><stop offset="0.4665" stop-color="#fee79a"/><stop offset="0.4684" stop-color="#fee79b"/><stop offset="0.4703" stop-color="#fee89c"/><stop offset="0.4721" stop-color="#fee89c"/><stop offset="0.4740" stop-color="#fee99d"/><stop offset="0.4758" stop-color="#fee99e"/><stop offset="0.4777" stop-color="#fee699"/><stop offset="0.4796" stop-color="#fee191"/><stop offset="0.4814" stop-color="#fed889"/><stop offset="0.4833" stop-color="#fed485"/><stop offset="0.4851" stop-color="#fed182"/><stop offset="0.4870" stop-color="#fecf80"/><stop offset="0.4888" stop-color="#fecd7e"/><stop offset="0.4907" stop-color="#fed182"/><stop offset="0.4926" stop-color="#fed687"/><stop offset="0.4944" stop-color="#fedc8c"/><stop offset="0.4963" stop-color="#fee090"/><stop offset="0.4981" stop-color="#fee090"/><stop offset="0.5000" stop-color="#fee090"/><stop offset="0.5019" stop-color="#fed888"/><stop offset="0.5037" stop-color="#fdbe70"/><stop offset="0.5056" stop-color="#fdac60"/><stop offset="0.5074" stop-color="#fca85e"/><stop offset="0.5093" stop-color="#fca35c"/><stop offset="0.5112" stop-color="#fb9f5a"/><stop offset="0.5130" stop-color="#fdb062"/><stop offset="0.5149" stop-color="#fee090"/><stop offset="0.5167" stop-color="#fee090"/><stop offset="0.5186" stop-color="#fede8e"/><stop offset="0.5204" stop-color="#fed485"/><stop offset="0.5223" stop-color="#fecd7e"/><stop offset="0.5242" stop-color="#fecf80"/><stop offset="0.5260" stop-color="#fed283"/><stop offset="0.5279" stop-color="#fed585"/><stop offset="0.5297" stop-color="#fed989"/><stop offset="0.5316" stop-color="#fee090"/><stop offset="0.5335" stop-color="#fee497"/><stop offset="0.5353" stop-color="#fee699"/><stop offset="0.5372" stop-color="#fee699"/><stop offset="0.5390" stop-color="#fee699"/><stop offset="0.5409" stop-color="#fee699"/><stop offset="0.5428" stop-color="#fee699"/><stop offset="0.5446" stop-color="#fee699"/><stop offset="0.5465" stop-color="#fee699"/><stop offset="0.5483" stop-color="#fee698"/><stop offset="0.5502" stop-color="#fede8e"/><stop offset="0.5520" stop-color="#fed182"/><stop offset="0.5539" stop-color="#fed182"/><stop offset="0.5558" stop-color="#fed98a"/><stop offset="0.5576" stop-color="#fee090"/><stop offset="0.5595" stop-color="#fee293"/><stop offset="0.5613" stop-color="#fee495"/><stop offset="0.5632" stop-color="#fee598"/><stop offset="0.5651" stop-color="#fee89d"/><stop offset="0.5669" stop-color="#feeea5"/><stop offset="0.5688" stop-color="#fff3ad"/><stop offset="0.5706" stop-color="#fff1aa"/><stop offset="0.5725" stop-color="#fee89c"/><stop offset="0.5743" stop-color="#fee191"/><stop offset="0.5762" stop-color="#fee293"/><stop offset="0.5781" stop-color="#fee496"/><stop offset="0.5799" stop-color="#feeba1"/><stop offset="0.5818" stop-color="#b4ddeb"/><stop offset="0.5836" stop-color="#76aed2"/><stop offset="0.5855" stop-color="#78b0d3"/><stop offset="0.5874" stop-color="#7ab2d4"/><stop offset="0.5892" stop-color="#7db4d5"/><stop offset="0.5911" stop-color="#7fb6d6"/><stop offset="0.5929" stop-color="#82b8d7"/><stop offset="0.5948" stop-color="#85bbd8"/><stop offset="0.5967" stop-color="#88bdda"/><stop offset="0.5985" stop-color="#8ec1dc"/><stop offset="0.6004" stop-color="#99cae1"/><stop offset="0.6022" stop-color="#95c7df"/><stop offset="0.6041" stop-color="#78b0d3"/><stop offset="0.6059" stop-color="#689fca"/><stop offset="0.6078" stop-color="#6399c7"/><stop offset="0.6097" stop-color="#649ac7"/><stop offset="0.6115" stop-color="#69a0ca"/><stop offset="0.6134" stop-color="#6ea6cd"/><stop offset="0.6152" stop-color="#73acd0"/><stop offset="0.6171" stop-color="#78b1d3"/><stop offset="0.6190" stop-color="#7eb5d5"/><stop offset="0.6208" stop-color="#84bad8"/><stop offset="0.6227" stop-color="#89beda"/><stop offset="0.6245" stop-color="#8abfdb"/><stop offset="0.6264" stop-color="#8abfdb"/><stop offset="0.6283" stop-color="#8abfdb"/><stop offset="0.6301" stop-color="#8bbfdb"/><stop offset="0.6320" stop-color="#8dc1dc"/><stop offset="0.6338" stop-color="#90c4dd"/><stop offset="0.6357" stop-color="#93c6df"/><stop offset="0.6375" stop-color="#9acce2"/><stop offset="0.6394" stop-color="#aad8e8"/><stop offset="0.6413" stop-color="#b8e0ed"/><stop offset="0.6431" stop-color="#c1e4ef"/><stop offset="0.6450" stop-color="#c3e5f0"/><stop offset="0.6468" stop-color="#c4e5f0"/><stop offset="0.6487" stop-color="#c6e6f1"/><stop offset="0.6506" stop-color="#c7e7f1"/><stop offset="0.6524" stop-color="#c9e8f1"/><stop offset="0.6543" stop-color="#cae8f2"/><stop offset="0.6561" stop-color="#c9e7f1"/><stop offset="0.6580" stop-color="#c6e6f1"/><stop offset="0.6599" stop-color="#c3e5f0"/><stop offset="0.6617" stop-color="#c1e4ef"/><stop offset="0.6636" stop-color="#c4e5f0"/><stop offset="0.6654" stop-color="#c8e7f1"/><stop offset="0.6673" stop-color="#d5eef5"/><stop offset="0.6691" stop-color="#f6fbd0"/><stop offset="0.6710" stop-color="#fff7b3"/><stop offset="0.6729" stop-color="#fff0a9"/><stop offset="0.6747" stop-color="#fff2ab"/><stop offset="0.6766" stop-color="#fff4ae"/><stop offset="0.6784" stop-color="#fff8b5"/><stop offset="0.6803" stop-color="#e9f7e7"/><stop offset="0.6822" stop-color="#d5eef5"/><stop offset="0.6840" stop-color="#f2fad7"/><stop offset="0.6859" stop-color="#fdbd70"/><stop offset="0.6877" stop-color="#feca7b"/><stop offset="0.6896" stop-color="#fdc476"/><stop offset="0.6914" stop-color="#fdbd6f"/><stop offset="0.6933" stop-color="#fdc274"/><stop offset="0.6952" stop-color="#fee192"/><stop offset="0.6970" stop-color="#fff1a9"/><stop offset="0.6989" stop-color="#fff5b0"/><stop offset="0.7007" stop-color="#fff9b6"/><stop offset="0.7026" stop-color="#fffdbc"/><stop offset="0.7045" stop-color="#f8fccc"/><stop offset="0.7063" stop-color="#ebf7e3"/><stop offset="0.7082" stop-color="#e9f7e7"/><stop offset="0.7100" stop-color="#eef8de"/><stop offset="0.7119" stop-color="#f3fad4"/><stop offset="0.7138" stop-color="#f9fdca"/><stop offset="0.7156" stop-color="#fefec2"/><stop offset="0.7175" stop-color="#fafdc8"/><stop offset="0.7193" stop-color="#f5fbd2"/><stop offset="0.7212" stop-color="#eff9dc"/><stop offset="0.7230" stop-color="#eaf7e5"/><stop offset="0.7249" stop-color="#e5f5ef"/><stop offset="0.7268" stop-color="#dff2f8"/><stop offset="0.7286" stop-color="#d6eef5"/><stop offset="0.7305" stop-color="#ceeaf3"/><stop offset="0.7323" stop-color="#c6e6f1"/><stop offset="0.7342" stop-color="#c0e3ef"/><stop offset="0.7361" stop-color="#c0e3ef"/><stop offset="0.7379" stop-color="#c0e3ef"/><stop offset="0.7398" stop-color="#c0e3ef"/><stop offset="0.7416" stop-color="#c0e3ef"/><stop offset="0.7435" stop-color="#c0e3ef"/><stop offset="0.7454" stop-color="#c0e3ef"/><stop offset="0.7472" stop-color="#bbe1ee"/><stop offset="0.7491" stop-color="#b4ddec"/><stop offset="0.7509" stop-color="#addae9"/><stop offset="0.7528" stop-color="#a6d5e7"/><stop offset="0.7546" stop-color="#9fcfe4"/><stop offset="0.7565" stop-color="#84bad8"/><stop offset="0.7584" stop-color="#86bcd9"/><stop offset="0.7602" stop-color="#a8d6e8"/><stop offset="0.7621" stop-color="#abd9e9"/><stop offset="0.7639" stop-color="#abd9e9"/><stop offset="0.7658" stop-color="#abd9e9"/><stop offset="0.7677" stop-color="#abd9e9"/><stop offset="0.7695" stop-color="#abd9e9"/><stop offset="0.7714" stop-color="#addaea"/><stop offset="0.7732" stop-color="#afdbea"/><stop offset="0.7751" stop-color="#b0dcea"/><stop offset="0.7770" stop-color="#b2dceb"/><stop offset="0.7788" stop-color="#b3ddeb"/><stop offset="0.7807" stop-color="#b5deec"/><stop offset="0.7825" stop-color="#d3edf4"/><stop offset="0.7844" stop-color="#f3fad5"/><stop offset="0.7862" stop-color="#fff6b1"/><stop offset="0.7881" stop-color="#fff6b1"/><stop offset="0.7900" stop-color="#fffebd"/><stop offset="0.7918" stop-color="#f8fccc"/><stop offset="0.7937" stop-color="#f2fad8"/><stop offset="0.7955" stop-color="#fafdc9"/><stop offset="0.7974" stop-color="#fff9b6"/><stop offset="0.7993" stop-color="#fff0a8"/><stop offset="0.8011" stop-color="#feeda4"/><stop offset="0.8030" stop-color="#feeba1"/><stop offset="0.8048" stop-color="#fee99e"/><stop offset="0.8067" stop-color="#fee89b"/><stop offset="0.8086" stop-color="#fee699"/><stop offset="0.8104" stop-color="#fee496"/><stop offset="0.8123" stop-color="#fee294"/><stop offset="0.8141" stop-color="#fee191"/><stop offset="0.8160" stop-color="#feda8b"/><stop offset="0.8178" stop-color="#fed081"/><stop offset="0.8197" stop-color="#fed081"/><stop offset="0.8216" stop-color="#fed788"/><stop offset="0.8234" stop-color="#fede8e"/><stop offset="0.8253" stop-color="#fed787"/><stop offset="0.8271" stop-color="#feca7c"/><stop offset="0.8290" stop-color="#fdbe70"/><stop offset="0.8309" stop-color="#fdb568"/><stop offset="0.8327" stop-color="#f67b49"/><stop offset="0.8346" stop-color="#cc2527"/><stop offset="0.8364" stop-color="#ca2327"/><stop offset="0.8383" stop-color="#cb2427"/><stop offset="0.8401" stop-color="#d73027"/><stop offset="0.8420" stop-color="#f0653f"/><stop offset="0.8439" stop-color="#fdc576"/><stop offset="0.8457" stop-color="#fecc7d"/><stop offset="0.8476" stop-color="#fed081"/><stop offset="0.8494" stop-color="#fed485"/><stop offset="0.8513" stop-color="#fed888"/><stop offset="0.8532" stop-color="#fedc8c"/><stop offset="0.8550" stop-color="#fedf8f"/><stop offset="0.8569" stop-color="#fed686"/><stop offset="0.8587" stop-color="#feca7b"/><stop offset="0.8606" stop-color="#fdbb6d"/><stop offset="0.8625" stop-color="#fdb365"/><stop offset="0.8643" stop-color="#fdc173"/><stop offset="0.8662" stop-color="#fece7f"/><stop offset="0.8680" stop-color="#fed586"/><stop offset="0.8699" stop-color="#fedc8c"/><stop offset="0.8717" stop-color="#fee090"/><stop offset="0.8736" stop-color="#fee090"/><stop offset="0.8755" stop-color="#fee090"/><stop offset="0.8773" stop-color="#fee090"/><stop offset="0.8792" stop-color="#fee598"/><stop offset="0.8810" stop-color="#feeda4"/><stop offset="0.8829" stop-color="#feeea5"/><stop offset="0.8848" stop-color="#feeca2"/><stop offset="0.8866" stop-color="#feea9f"/><stop offset="0.8885" stop-color="#fee89d"/><stop offset="0.8903" stop-color="#fee69a"/><stop offset="0.8922" stop-color="#fee598"/><stop offset="0.8941" stop-color="#fee496"/><stop offset="0.8959" stop-color="#fee294"/><stop offset="0.8978" stop-color="#fee192"/><stop offset="0.8996" stop-color="#fee090"/><stop offset="0.9015" stop-color="#fee090"/><stop offset="0.9033" stop-color="#fee090"/><stop offset="0.9052" stop-color="#fee090"/><stop offset="0.9071" stop-color="#fee090"/><stop offset="0.9089" stop-color="#fee090"/><stop offset="0.9108" stop-color="#fee090"/><stop offset="0.9126" stop-color="#feeea5"/><stop offset="0.9145" stop-color="#f9fdc9"/><stop offset="0.9164" stop-color="#f0f9da"/><stop offset="0.9182" stop-color="#e9f6e8"/><stop offset="0.9201" stop-color="#edf8e0"/><stop offset="0.9219" stop-color="#f6fccf"/><stop offset="0.9238" stop-color="#f9fdca"/><stop offset="0.9257" stop-color="#f9fdca"/><stop offset="0.9275" stop-color="#f9fdca"/><stop offset="0.9294" stop-color="#f9fdcb"/><stop offset="0.9312" stop-color="#f6fccf"/><stop offset="0.9331" stop-color="#f4fbd3"/><stop offset="0.9349" stop-color="#f1fad8"/><stop offset="0.9368" stop-color="#eef8df"/><stop offset="0.9387" stop-color="#e6f5ed"/><stop offset="0.9405" stop-color="#e2f4f5"/><stop offset="0.9424" stop-color="#e8f6ea"/><stop offset="0.9442" stop-color="#fff6b2"/><stop offset="0.9461" stop-color="#fed182"/><stop offset="0.9480" stop-color="#fdb365"/><stop offset="0.9498" stop-color="#fdbb6d"/><stop offset="0.9517" stop-color="#fec779"/><stop offset="0.9535" stop-color="#fecf80"/><stop offset="0.9554" stop-color="#fed384"/><stop offset="0.9572" stop-color="#fed788"/><stop offset="0.9591" stop-color="#fedb8b"/><stop offset="0.9610" stop-color="#fedf8f"/><stop offset="0.9628" stop-color="#fee090"/><stop offset="0.9647" stop-color="#fee090"/><stop offset="0.9665" stop-color="#fee090"/><stop offset="0.9684" stop-color="#fee090"/><stop offset="0.9703" stop-color="#fedc8d"/><stop offset="0.9721" stop-color="#fec97a"/><stop offset="0.9740" stop-color="#fdb86a"/><stop offset="0.9758" stop-color="#fdb265"/><stop offset="0.9777" stop-color="#fdb366"/><stop offset="0.9796" stop-color="#fdc274"/><stop offset="0.9814" stop-color="#fed283"/><stop offset="0.9833" stop-color="#fee192"/><stop offset="0.9851" stop-color="#fee699"/><stop offset="0.9870" stop-color="#fee699"/><stop offset="0.9888" stop-color="#fee699"/><stop offset="0.9907" stop-color="#fee699"/><stop offset="0.9926" stop-color="#fee699"/><stop offset="0.9944" stop-color="#fee598"/><stop offset="0.9963" stop-color="#feca7b"/><stop offset="0.9981" stop-color="#fdaf62"/><stop offset="1.0000" stop-color="#fdae61"/></linearGradient>
<linearGradient id="r2" x1="0" x2="1" y1="0" y2="0"><stop offset="0.0000" stop-color="#f46d43"/><stop offset="0.0019" stop-color="#f46d43"/><stop offset="0.0037" stop-color="#f46d43"/><stop offset="0.0056" stop-color="#f46d43"/><stop offset="0.0074" stop-color="#ed5f3c"/><stop offset="0.0093" stop-color="#e64f35"/><stop offset="0.0112" stop-color="#e64e35"/><stop offset="0.0130" stop-color="#e64e35"/><stop offset="0.0149" stop-color="#e64e35"/><stop offset="0.0167" stop-color="#e95739"/><stop offset="0.0186" stop-color="#ed5e3c"/><stop offset="0.0204" stop-color="#ea5739"/><stop offset="0.0223" stop-color="#e75136"/><stop offset="0.0242" stop-color="#e64e35"/><stop offset="0.0260" stop-color="#e64e35"/><stop offset="0.0279" stop-color="#e64e35"/><stop offset="0.0297" stop-color="#e64e35"/><stop offset="0.0316" stop-color="#e64e35"/><stop offset="0.0335" stop-color="#e64e35"/><stop offset="0.0353" stop-color="#e64e35"/><stop offset="0.0372" stop-color="#e64e35"/><stop offset="0.0390" stop-color="#ee603d"/><stop offset="0.0409" stop-color="#f67e4b"/><stop offset="0.0428" stop-color="#f7804c"/><stop offset="0.0446" stop-color="#f77f4b"/><stop offset="0.0465" stop-color="#f67e4b"/><stop offset="0.0483" stop-color="#f67e4b"/><stop offset="0.0502" stop-color="#f67d4a"/><stop offset="0.0520" stop-color="#f67d4a"/><stop offset="0.0539" stop-color="#f67c4a"/><stop offset="0.0558" stop-color="#f67b4a"/><stop offset="0.0576" stop-color="#f67b49"/><stop offset="0.0595" stop-color="#f46f44"/><stop offset="0.0613" stop-color="#dd3c2c"/><stop offset="0.0632" stop-color="#d42d27"/><stop offset="0.0651" stop-color="#d02927"/><stop offset="0.0669" stop-color="#cf2827"/><stop offset="0.0688" stop-color="#d12b27"/><stop offset="0.0706" stop-color="#d02927"/><stop offset="0.0725" stop-color="#ce2827"/><stop offset="0.0743" stop-color="#cd2627"/><stop offset="0.0762" stop-color="#cb2427"/><stop offset="0.0781" stop-color="#c92327"/><stop offset="0.0799" stop-color="#c51f27"/><stop offset="0.0818" stop-color="#b91326"/><stop offset="0.0836" stop-color="#b00a26"/><stop offset="0.0855" stop-color="#af0a26"/><stop offset="0.0874" stop-color="#af0a26"/><stop offset="0.0892" stop-color="#af0a26"/><stop offset="0.0911" stop-color="#b10c26"/><stop offset="0.0929" stop-color="#b61126"/><stop offset="0.0948" stop-color="#b91326"/><stop offset="0.0967" stop-color="#b91326"/><stop offset="0.0985" stop-color="#b91326"/><stop offset="0.1004" stop-color="#b91326"/><stop offset="0.1022" stop-color="#b91326"/><stop offset="0.1041" stop-color="#b91326"/><stop offset="0.1059" stop-color="#c01a27"/><stop offset="0.1078" stop-color="#d42d27"/><stop offset="0.1097" stop-color="#d93529"/><stop offset="0.1115" stop-color="#dc3a2b"/><stop offset="0.1134" stop-color="#e75337"/><stop offset="0.1152" stop-color="#f57748"/><stop offset="0.1171" stop-color="#f7804c"/><stop offset="0.1190" stop-color="#f7854e"/><stop offset="0.1208" stop-color="#f88a50"/><stop offset="0.1227" stop-color="#f99555"/><stop offset="0.1245" stop-color="#fca95f"/><stop offset="0.1264" stop-color="#fdae61"/><stop offset="0.1283" stop-color="#fdae61"/><stop offset="0.1301" stop-color="#fdae61"/><stop offset="0.1320" stop-color="#fdae61"/><stop offset="0.1338" stop-color="#fdae61"/><stop offset="0.1357" stop-color="#fdb567"/><stop offset="0.1375" stop-color="#fdbe70"/><stop offset="0.1394" stop-color="#fdbb6d"/><stop offset="0.1413" stop-color="#fdb164"/><stop offset="0.1431" stop-color="#fdb265"/><stop offset="0.1450" stop-color="#fdb86a"/><stop offset="0.1468" stop-color="#fdbd6f"/><stop offset="0.1487" stop-color="#fdc173"/><stop offset="0.1506" stop-color="#fdc576"/><stop offset="0.1524" stop-color="#fec97a"/><stop offset="0.1543" stop-color="#fed283"/><stop offset="0.1561" stop-color="#feea9f"/><stop offset="0.1580" stop-color="#fff8b5"/><stop offset="0.1599" stop-color="#fffab7"/><stop offset="0.1617" stop-color="#fffbb9"/><stop offset="0.1636" stop-color="#fffcba"/><stop offset="0.1654" stop-color="#fffcbb"/><stop offset="0.1673" stop-color="#fffdbc"/><stop offset="0.1691" stop-color="#fffebe"/><stop offset="0.1710" stop-color="#f9fdca"/><stop offset="0.1729" stop-color="#e9f6e8"/><stop offset="0.1747" stop-color="#ebf7e3"/><stop offset="0.1766" stop-color="#f4fbd2"/><stop offset="0.1784" stop-color="#fefec2"/><stop offset="0.1803" stop-color="#fbfec6"/><stop offset="0.1822" stop-color="#f6fccf"/><stop offset="0.1840" stop-color="#eef8df"/><stop offset="0.1859" stop-color="#e5f5ef"/><stop offset="0.1877" stop-color="#d6eef5"/><stop offset="0.1896" stop-color="#c0e3ef"/><stop offset="0.1914" stop-color="#a6d5e7"/><stop offset="0.1933" stop-color="#8cc0dc"/><stop offset="0.1952" stop-color="#8abfdb"/><stop offset="0.1970" stop-color="#8abfdb"/><stop offset="0.1989" stop-color="#8bc0db"/><stop offset="0.2007" stop-color="#a1d1e5"/><stop offset="0.2026" stop-color="#b0dbea"/><stop offset="0.2045" stop-color="#a1d1e5"/><stop offset="0.2063" stop-color="#8bbfdb"/><stop offset="0.2082" stop-color="#81b7d6"/><stop offset="0.2100" stop-color="#84bad8"/><stop offset="0.2119" stop-color="#87bcd9"/><stop offset="0.2138" stop-color="#8dc1dc"/><stop offset="0.2156" stop-color="#9ecee3"/><stop offset="0.2175" stop-color="#afdbea"/><stop offset="0.2193" stop-color="#c1e4ef"/><stop offset="0.2212" stop-color="#d5edf5"/><stop offset="0.2230" stop-color="#f0f9da"/><stop offset="0.2249" stop-color="#fffdbb"/><stop offset="0.2268" stop-color="#fff7b3"/><stop offset="0.2286" stop-color="#fff2ab"/><stop offset="0.2305" stop-color="#feeca3"/><stop offset="0.2323" stop-color="#fee79b"/><stop offset="0.2342" stop-color="#fee292"/><stop offset="0.2361" stop-color="#fedc8c"/><stop offset="0.2379" stop-color="#fed788"/><stop offset="0.2398" stop-color="#fed283"/><stop offset="0.2416" stop-color="#fece7f"/><stop offset="0.2435" stop-color="#fed586"/><stop offset="0.2454" stop-color="#fedf8f"/><stop offset="0.2472" stop-color="#fee090"/><stop offset="0.2491" stop-color="#fee496"/><stop offset="0.2509" stop-color="#fff4af"/><stop offset="0.2528" stop-color="#fff6b1"/><stop offset="0.2546" stop-color="#fff6b1"/><stop offset="0.2565" stop-color="#fff6b1"/><stop offset="0.2584" stop-color="#fff6b1"/><stop offset="0.2602" stop-color="#fff6b1"/><stop offset="0.2621" stop-color="#fff6b1"/><stop offset="0.2639" stop-color="#fff6b1"/><stop offset="0.2658" stop-color="#fff6b1"/><stop offset="0.2677" stop-color="#fff2ab"/><stop offset="0.2695" stop-color="#fed98a"/><stop offset="0.2714" stop-color="#fdc273"/><stop offset="0.2732" stop-color="#fdb366"/><stop offset="0.2751" stop-color="#fdb669"/><stop offset="0.2770" stop-color="#fdc172"/><stop offset="0.2788" stop-color="#fecb7c"/><stop offset="0.2807" stop-color="#fed384"/><stop offset="0.2825" stop-color="#fedb8b"/><stop offset="0.2844" stop-color="#fee293"/><stop offset="0.2862" stop-color="#fee598"/><stop offset="0.2881" stop-color="#fee191"/><stop offset="0.2900" stop-color="#feda8a"/><stop offset="0.2918" stop-color="#fed282"/><stop offset="0.2937" stop-color="#fecb7c"/><stop offset="0.2955" stop-color="#fdc577"/><stop offset="0.2974" stop-color="#fdc072"/><stop offset="0.2993" stop-color="#feca7c"/><stop offset="0.3011" stop-color="#fee699"/><stop offset="0.3030" stop-color="#fff1a9"/><stop offset="0.3048" stop-color="#fff3ad"/><stop offset="0.3067" stop-color="#fff6b1"/><stop offset="0.3086" stop-color="#fffab8"/><stop offset="0.3104" stop-color="#c9e8f1"/><stop offset="0.3123" stop-color="#5d92c3"/><stop offset="0.3141" stop-color="#4c7db8"/><stop offset="0.3160" stop-color="#5487bd"/><stop offset="0.3178" stop-color="#5d92c3"/><stop offset="0.3197" stop-color="#72abd0"/><stop offset="0.3216" stop-color="#74add1"/><stop offset="0.3234" stop-color="#6399c7"/><stop offset="0.3253" stop-color="#4e80ba"/><stop offset="0.3271" stop-color="#416aaf"/><stop offset="0.3290" stop-color="#4167ad"/><stop offset="0.3309" stop-color="#4067ad"/><stop offset="0.3327" stop-color="#4066ad"/><stop offset="0.3346" stop-color="#4065ac"/><stop offset="0.3364" stop-color="#4064ac"/><stop offset="0.3383" stop-color="#3f64ab"/><stop offset="0.3401" stop-color="#3f63ab"/><stop offset="0.3420" stop-color="#3f62ab"/><stop offset="0.3439" stop-color="#3e60aa"/><stop offset="0.3457" stop-color="#3e5ea9"/><stop offset="0.3476" stop-color="#3d5ca7"/><stop offset="0.3494" stop-color="#3c59a6"/><stop offset="0.3513" stop-color="#3c57a5"/><stop offset="0.3532" stop-color="#3c59a6"/><stop offset="0.3550" stop-color="#4064ab"/><stop offset="0.3569" stop-color="#436fb1"/><stop offset="0.3587" stop-color="#4472b3"/><stop offset="0.3606" stop-color="#426caf"/><stop offset="0.3625" stop-color="#4065ac"/><stop offset="0.3643" stop-color="#4168ae"/><stop offset="0.3662" stop-color="#4473b3"/><stop offset="0.3680" stop-color="#4b7db8"/><stop offset="0.3699" stop-color="#4574b4"/><stop offset="0.3717" stop-color="#3f62ab"/><stop offset="0.3736" stop-color="#3b55a4"/><stop offset="0.3755" stop-color="#3a54a4"/><stop offset="0.3773" stop-color="#3a52a3"/><stop offset="0.3792" stop-color="#3951a2"/><stop offset="0.3810" stop-color="#3a52a3"/><stop offset="0.3829" stop-color="#4064ac"/><stop offset="0.3848" stop-color="#4777b5"/><stop offset="0.3866" stop-color="#5386bd"/><stop offset="0.3885" stop-color="#598dc0"/><stop offset="0.3903" stop-color="#4e80ba"/><stop offset="0.3922" stop-color="#4472b3"/><stop offset="0.3941" stop-color="#4168ae"/><stop offset="0.3959" stop-color="#4067ad"/><stop offset="0.3978" stop-color="#4065ac"/><stop offset="0.3996" stop-color="#4064ac"/><stop offset="0.4015" stop-color="#3f63ab"/><stop offset="0.4033" stop-color="#426cb0"/><stop offset="0.4052" stop-color="#4b7cb8"/><stop offset="0.4071" stop-color="#5e93c3"/><stop offset="0.4089" stop-color="#77b0d2"/><stop offset="0.4108" stop-color="#b8dfed"/><stop offset="0.4126" stop-color="#fed081"/><stop offset="0.4145" stop-color="#fdae61"/><stop offset="0.4164" stop-color="#fdae61"/><stop offset="0.4182" stop-color="#fdae61"/><stop offset="0.4201" stop-color="#fdb164"/><stop offset="0.4219" stop-color="#fdb467"/><stop offset="0.4238" stop-color="#fdb86a"/><stop offset="0.4257" stop-color="#fdbb6d"/><stop offset="0.4275" stop-color="#fdbd6f"/><stop offset="0.4294" stop-color="#fdbd6f"/><stop offset="0.4312" stop-color="#fdbd6f"/><stop offset="0.4331" stop-color="#fdb96b"/><stop offset="0.4349" stop-color="#fdae61"/><stop offset="0.4368" stop-color="#fba05b"/><stop offset="0.4387" stop-color="#f99153"/><stop offset="0.4405" stop-color="#f7804c"/><stop offset="0.4424" stop-color="#f67c4a"/><stop offset="0.4442" stop-color="#f7804c"/><stop offset="0.4461" stop-color="#f7834d"/><stop offset="0.4480" stop-color="#f7864e"/><stop offset="0.4498" stop-color="#f7814c"/><stop offset="0.4517" stop-color="#f67a49"/><stop offset="0.4535" stop-color="#f46f44"/><stop offset="0.4554" stop-color="#f0643f"/><stop offset="0.4572" stop-color="#ea593a"/><stop offset="0.4591" stop-color="#e34933"/><stop offset="0.4610" stop-color="#df422f"/><stop offset="0.4628" stop-color="#e85337"/><stop offset="0.4647" stop-color="#ef623e"/><stop offset="0.4665" stop-color="#f26941"/><stop offset="0.4684" stop-color="#f47044"/><stop offset="0.4703" stop-color="#f57647"/><stop offset="0.4721" stop-color="#f67848"/><stop offset="0.4740" stop-color="#f57346"/><stop offset="0.4758" stop-color="#f46f44"/><stop offset="0.4777" stop-color="#ee613e"/><stop offset="0.4796" stop-color="#e64f35"/><stop offset="0.4814" stop-color="#e34a33"/><stop offset="0.4833" stop-color="#e44c34"/><stop offset="0.4851" stop-color="#e64f35"/><stop offset="0.4870" stop-color="#ea5839"/><stop offset="0.4888" stop-color="#ef623e"/><stop offset="0.4907" stop-color="#f36c42"/><stop offset="0.4926" stop-color="#f26941"/><stop offset="0.4944" stop-color="#f0643f"/><stop offset="0.4963" stop-color="#ee613e"/><stop offset="0.4981" stop-color="#ee613d"/><stop offset="0.5000" stop-color="#ee613d"/><stop offset="0.5019" stop-color="#ee613d"/><stop offset="0.5037" stop-color="#ec5b3b"/><stop offset="0.5056" stop-color="#e44b34"/><stop offset="0.5074" stop-color="#e0422f"/><stop offset="0.5093" stop-color="#e0422f"/><stop offset="0.5112" stop-color="#e0422f"/><stop offset="0.5130" stop-color="#e85538"/><stop offset="0.5149" stop-color="#f88e52"/><stop offset="0.5167" stop-color="#f88e52"/><stop offset="0.5186" stop-color="#f88e52"/><stop offset="0.5204" stop-color="#f88e52"/><stop offset="0.5223" stop-color="#f88e52"/><stop offset="0.5242" stop-color="#f7834d"/><stop offset="0.5260" stop-color="#ef623e"/><stop offset="0.5279" stop-color="#e75237"/><stop offset="0.5297" stop-color="#ec5c3b"/><stop offset="0.5316" stop-color="#ef633e"/><stop offset="0.5335" stop-color="#f16740"/><stop offset="0.5353" stop-color="#f36b42"/><stop offset="0.5372" stop-color="#f36b42"/><stop offset="0.5390" stop-color="#f26941"/><stop offset="0.5409" stop-color="#f16640"/><stop offset="0.5428" stop-color="#f0643f"/><stop offset="0.5446" stop-color="#ee603d"/><stop offset="0.5465" stop-color="#e64f35"/><stop offset="0.5483" stop-color="#dc3b2c"/><stop offset="0.5502" stop-color="#d32c27"/><stop offset="0.5520" stop-color="#cb2427"/><stop offset="0.5539" stop-color="#c51f27"/><stop offset="0.5558" stop-color="#cb2427"/><stop offset="0.5576" stop-color="#d22b27"/><stop offset="0.5595" stop-color="#d73127"/><stop offset="0.5613" stop-color="#da3529"/><stop offset="0.5632" stop-color="#dc3a2b"/><stop offset="0.5651" stop-color="#de3e2d"/><stop offset="0.5669" stop-color="#e04330"/><stop offset="0.5688" stop-color="#e24832"/><stop offset="0.5706" stop-color="#e54c34"/><stop offset="0.5725" stop-color="#e14531"/><stop offset="0.5743" stop-color="#da362a"/><stop offset="0.5762" stop-color="#d73027"/><stop offset="0.5781" stop-color="#d83328"/><stop offset="0.5799" stop-color="#f16740"/><stop offset="0.5818" stop-color="#f67c4a"/><stop offset="0.5836" stop-color="#f67e4b"/><stop offset="0.5855" stop-color="#f7804c"/><stop offset="0.5874" stop-color="#f7834d"/><stop offset="0.5892" stop-color="#f7854e"/><stop offset="0.5911" stop-color="#f8874f"/><stop offset="0.5929" stop-color="#f88950"/><stop offset="0.5948" stop-color="#f88b51"/><stop offset="0.5967" stop-color="#f88c51"/><stop offset="0.5985" stop-color="#f99154"/><stop offset="0.6004" stop-color="#fb9c59"/><stop offset="0.6022" stop-color="#fca75e"/><stop offset="0.6041" stop-color="#fdaf62"/><stop offset="0.6059" stop-color="#fdb164"/><stop offset="0.6078" stop-color="#fdb366"/><stop offset="0.6097" stop-color="#fdb568"/><stop offset="0.6115" stop-color="#fdb76a"/><stop offset="0.6134" stop-color="#fdb366"/><stop offset="0.6152" stop-color="#fdac60"/><stop offset="0.6171" stop-color="#fba25b"/><stop offset="0.6190" stop-color="#f88b51"/><stop offset="0.6208" stop-color="#f57245"/><stop offset="0.6227" stop-color="#f46d43"/><stop offset="0.6245" stop-color="#f46d43"/><stop offset="0.6264" stop-color="#f46d43"/><stop offset="0.6283" stop-color="#f46d43"/><stop offset="0.6301" stop-color="#f46d43"/><stop offset="0.6320" stop-color="#f46d43"/><stop offset="0.6338" stop-color="#f46d43"/><stop offset="0.6357" stop-color="#f46d43"/><stop offset="0.6375" stop-color="#f36c42"/><stop offset="0.6394" stop-color="#f26941"/><stop offset="0.6413" stop-color="#f06640"/><stop offset="0.6431" stop-color="#ef623e"/><stop offset="0.6450" stop-color="#eb5a3a"/><stop offset="0.6468" stop-color="#e54d34"/><stop offset="0.6487" stop-color="#e44b34"/><stop offset="0.6506" stop-color="#e65036"/><stop offset="0.6524" stop-color="#e95538"/><stop offset="0.6543" stop-color="#eb5a3a"/><stop offset="0.6561" stop-color="#ed5e3c"/><stop offset="0.6580" stop-color="#ef623e"/><stop offset="0.6599" stop-color="#f06540"/><stop offset="0.6617" stop-color="#f26941"/><stop offset="0.6636" stop-color="#f46c43"/><stop offset="0.6654" stop-color="#f26941"/><stop offset="0.6673" stop-color="#f0643f"/><stop offset="0.6691" stop-color="#ec5c3b"/><stop offset="0.6710" stop-color="#e34a33"/><stop offset="0.6729" stop-color="#dd3d2d"/><stop offset="0.6747" stop-color="#dd3d2d"/><stop offset="0.6766" stop-color="#de3e2e"/><stop offset="0.6784" stop-color="#de3f2e"/><stop offset="0.6803" stop-color="#df402f"/><stop offset="0.6822" stop-color="#df412f"/><stop offset="0.6840" stop-color="#df402e"/><stop offset="0.6859" stop-color="#db382b"/><stop offset="0.6877" stop-color="#d93429"/><stop offset="0.6896" stop-color="#d42d27"/><stop offset="0.6914" stop-color="#c51f27"/><stop offset="0.6933" stop-color="#bf1927"/><stop offset="0.6952" stop-color="#d32c27"/><stop offset="0.6970" stop-color="#de3f2e"/><stop offset="0.6989" stop-color="#e24732"/><stop offset="0.7007" stop-color="#e64f35"/><stop offset="0.7026" stop-color="#e95739"/><stop offset="0.7045" stop-color="#ed5f3c"/><stop offset="0.7063" stop-color="#f16640"/><stop offset="0.7082" stop-color="#f88950"/><stop offset="0.7100" stop-color="#fedb8c"/><stop offset="0.7119" stop-color="#fee394"/><stop offset="0.7138" stop-color="#fee597"/><stop offset="0.7156" stop-color="#fed485"/><stop offset="0.7175" stop-color="#fdad60"/><stop offset="0.7193" stop-color="#fca85e"/><stop offset="0.7212" stop-color="#fca35c"/><stop offset="0.7230" stop-color="#fdc375"/><stop offset="0.7249" stop-color="#fff0a9"/><stop offset="0.7268" stop-color="#f7fccd"/><stop offset="0.7286" stop-color="#e7f6ea"/><stop offset="0.7305" stop-color="#e7f6eb"/><stop offset="0.7323" stop-color="#e8f6ea"/><stop offset="0.7342" stop-color="#e8f6e9"/><stop offset="0.7361" stop-color="#e9f6e8"/><stop offset="0.7379" stop-color="#f2fad8"/><stop offset="0.7398" stop-color="#fff9b6"/><stop offset="0.7416" stop-color="#fef0a8"/><stop offset="0.7435" stop-color="#fff0a8"/><stop offset="0.7454" stop-color="#f4fbd4"/><stop offset="0.7472" stop-color="#c9e8f1"/><stop offset="0.7491" stop-color="#c3e5f0"/><stop offset="0.7509" stop-color="#c1e4ef"/><stop offset="0.7528" stop-color="#c5e6f0"/><stop offset="0.7546" stop-color="#d3edf4"/><stop offset="0.7565" stop-color="#d9f0f6"/><stop offset="0.7584" stop-color="#def2f7"/><stop offset="0.7602" stop-color="#fff3ad"/><stop offset="0.7621" stop-color="#fdbc6f"/><stop offset="0.7639" stop-color="#fdab60"/><stop offset="0.7658" stop-color="#fede8e"/><stop offset="0.7677" stop-color="#fff9b6"/><stop offset="0.7695" stop-color="#f8fccc"/><stop offset="0.7714" stop-color="#f0f9db"/><stop offset="0.7732" stop-color="#eff9dc"/><stop offset="0.7751" stop-color="#eff9dc"/><stop offset="0.7770" stop-color="#eff9dc"/><stop offset="0.7788" stop-color="#e4f5f0"/><stop offset="0.7807" stop-color="#cae8f2"/><stop offset="0.7825" stop-color="#cfeaf3"/><stop offset="0.7844" stop-color="#e0f3f8"/><stop offset="0.7862" stop-color="#f7fcce"/><stop offset="0.7881" stop-color="#f3fad6"/><stop offset="0.7900" stop-color="#e2f4f4"/><stop offset="0.7918" stop-color="#c8e7f1"/><stop offset="0.7937" stop-color="#aedbea"/><stop offset="0.7955" stop-color="#a6d5e7"/><stop offset="0.7974" stop-color="#9ccde3"/><stop offset="0.7993" stop-color="#80b7d6"/><stop offset="0.8011" stop-color="#87bcd9"/><stop offset="0.8030" stop-color="#a4d3e6"/><stop offset="0.8048" stop-color="#bbe1ee"/><stop offset="0.8067" stop-color="#d6eef5"/><stop offset="0.8086" stop-color="#feeca3"/><stop offset="0.8104" stop-color="#fdaf62"/><stop offset="0.8123" stop-color="#fca65d"/><stop offset="0.8141" stop-color="#fdab60"/><stop offset="0.8160" stop-color="#fee395"/><stop offset="0.8178" stop-color="#fdfec2"/><stop offset="0.8197" stop-color="#fafdc8"/><stop offset="0.8216" stop-color="#f7fcce"/><stop offset="0.8234" stop-color="#f3fbd4"/><stop offset="0.8253" stop-color="#f1f9da"/><stop offset="0.8271" stop-color="#f3fad5"/><stop offset="0.8290" stop-color="#f7fcce"/><stop offset="0.8309" stop-color="#fbfdc6"/><stop offset="0.8327" stop-color="#ffffc0"/><stop offset="0.8346" stop-color="#ffffbf"/><stop offset="0.8364" stop-color="#ffffbf"/><stop offset="0.8383" stop-color="#f2fad8"/><stop offset="0.8401" stop-color="#a3d3e6"/><stop offset="0.8420" stop-color="#6aa1cb"/><stop offset="0.8439" stop-color="#5588be"/><stop offset="0.8457" stop-color="#4b7cb8"/><stop offset="0.8476" stop-color="#4370b2"/><stop offset="0.8494" stop-color="#3f63ab"/><stop offset="0.8513" stop-color="#3d5ca8"/><stop offset="0.8532" stop-color="#3d5ca8"/><stop offset="0.8550" stop-color="#4064ac"/><stop offset="0.8569" stop-color="#4879b6"/><stop offset="0.8587" stop-color="#4370b2"/><stop offset="0.8606" stop-color="#4067ad"/><stop offset="0.8625" stop-color="#3d5ca8"/><stop offset="0.8643" stop-color="#3a51a2"/><stop offset="0.8662" stop-color="#37499e"/><stop offset="0.8680" stop-color="#37499e"/><stop offset="0.8699" stop-color="#37499e"/><stop offset="0.8717" stop-color="#37499e"/><stop offset="0.8736" stop-color="#37499e"/><stop offset="0.8755" stop-color="#3c59a6"/><stop offset="0.8773" stop-color="#4778b6"/><stop offset="0.8792" stop-color="#6095c5"/><stop offset="0.8810" stop-color="#6ca4cc"/><stop offset="0.8829" stop-color="#5588be"/><stop offset="0.8848" stop-color="#426baf"/><stop offset="0.8866" stop-color="#394fa1"/><stop offset="0.8885" stop-color="#37499e"/><stop offset="0.8903" stop-color="#37499e"/><stop offset="0.8922" stop-color="#37499e"/><stop offset="0.8941" stop-color="#37499e"/><stop offset="0.8959" stop-color="#37499e"/><stop offset="0.8978" stop-color="#394fa1"/><stop offset="0.8996" stop-color="#426cb0"/><stop offset="0.9015" stop-color="#588bc0"/><stop offset="0.9033" stop-color="#659bc8"/><stop offset="0.9052" stop-color="#588bbf"/><stop offset="0.9071" stop-color="#4b7cb7"/><stop offset="0.9089" stop-color="#436fb1"/><stop offset="0.9108" stop-color="#3f62ab"/><stop offset="0.9126" stop-color="#3e5ea9"/><stop offset="0.9145" stop-color="#3f63ab"/><stop offset="0.9164" stop-color="#4167ad"/><stop offset="0.9182" stop-color="#4471b2"/><stop offset="0.9201" stop-color="#4c7db8"/><stop offset="0.9219" stop-color="#5487bd"/><stop offset="0.9238" stop-color="#5e92c3"/><stop offset="0.9257" stop-color="#83b9d8"/><stop offset="0.9275" stop-color="#aad8e9"/><stop offset="0.9294" stop-color="#b9e0ed"/><stop offset="0.9312" stop-color="#8bbfdb"/><stop offset="0.9331" stop-color="#5a8ec1"/><stop offset="0.9349" stop-color="#3f62ab"/><stop offset="0.9368" stop-color="#4168ae"/><stop offset="0.9387" stop-color="#4473b3"/><stop offset="0.9405" stop-color="#4e80ba"/><stop offset="0.9424" stop-color="#5a8ec1"/><stop offset="0.9442" stop-color="#5d92c3"/><stop offset="0.9461" stop-color="#5486bd"/><stop offset="0.9480" stop-color="#5e93c3"/><stop offset="0.9498" stop-color="#82b8d7"/><stop offset="0.9517" stop-color="#99cae1"/><stop offset="0.9535" stop-color="#5c91c2"/><stop offset="0.9554" stop-color="#4370b2"/><stop offset="0.9572" stop-color="#3a52a3"/><stop offset="0.9591" stop-color="#37499e"/><stop offset="0.9610" stop-color="#37499e"/><stop offset="0.9628" stop-color="#37499e"/><stop offset="0.9647" stop-color="#37499e"/><stop offset="0.9665" stop-color="#37499e"/><stop offset="0.9684" stop-color="#37499e"/><stop offset="0.9703" stop-color="#384da0"/><stop offset="0.9721" stop-color="#3f62ab"/><stop offset="0.9740" stop-color="#4677b5"/><stop offset="0.9758" stop-color="#5183bb"/><stop offset="0.9777" stop-color="#5589be"/><stop offset="0.9796" stop-color="#4f81ba"/><stop offset="0.9814" stop-color="#4979b6"/><stop offset="0.9833" stop-color="#4574b3"/><stop offset="0.9851" stop-color="#4470b2"/><stop offset="0.9870" stop-color="#426db0"/><stop offset="0.9888" stop-color="#416aae"/><stop offset="0.9907" stop-color="#4471b2"/><stop offset="0.9926" stop-color="#4b7db8"/><stop offset="0.9944" stop-color="#4e80ba"/><stop offset="0.9963" stop-color="#4e80ba"/><stop offset="0.9981" stop-color="#4e80ba"/><stop offset="1.0000" stop-color="#4e80ba"/></linearGradient>
<linearGradient id="r3" x1="0" x2="1" y1="0" y2="0"><stop offset="0.0000" stop-color="#d73027"/><stop offset="0.0019" stop-color="#d73027"/><stop offset="0.0037" stop-color="#d73027"/><stop offset="0.0056" stop-color="#d73027"/><stop offset="0.0074" stop-color="#d73027"/><stop offset="0.0093" stop-color="#d73027"/><stop offset="0.0112" stop-color="#d73027"/><stop offset="0.0130" stop-color="#d62f27"/><stop offset="0.0149" stop-color="#c72027"/><stop offset="0.0167" stop-color="#c41e27"/><stop offset="0.0186" stop-color="#c51f27"/><stop offset="0.0204" stop-color="#c62027"/><stop offset="0.0223" stop-color="#c72127"/><stop offset="0.0242" stop-color="#bf1927"/><stop offset="0.0260" stop-color="#b91426"/><stop offset="0.0279" stop-color="#ba1426"/><stop offset="0.0297" stop-color="#bb1526"/><stop offset="0.0316" stop-color="#bb1626"/><stop offset="0.0335" stop-color="#bc1626"/><stop offset="0.0353" stop-color="#bd1726"/><stop offset="0.0372" stop-color="#bd1726"/><stop offset="0.0390" stop-color="#c01a27"/><stop offset="0.0409" stop-color="#d02a27"/><stop offset="0.0428" stop-color="#d73027"/><stop offset="0.0446" stop-color="#d73027"/><stop offset="0.0465" stop-color="#d73027"/><stop offset="0.0483" stop-color="#d73027"/><stop offset="0.0502" stop-color="#d73027"/><stop offset="0.0520" stop-color="#d73027"/><stop offset="0.0539" stop-color="#d73027"/><stop offset="0.0558" stop-color="#d73027"/><stop offset="0.0576" stop-color="#d73027"/><stop offset="0.0595" stop-color="#d73027"/><stop offset="0.0613" stop-color="#d73127"/><stop offset="0.0632" stop-color="#d83228"/><stop offset="0.0651" stop-color="#d83328"/><stop offset="0.0669" stop-color="#d93429"/><stop offset="0.0688" stop-color="#d93529"/><stop offset="0.0706" stop-color="#da362a"/><stop offset="0.0725" stop-color="#d83328"/><stop offset="0.0743" stop-color="#d62f27"/><stop offset="0.0762" stop-color="#d32c27"/><stop offset="0.0781" stop-color="#d02927"/><stop offset="0.0799" stop-color="#ca2427"/><stop offset="0.0818" stop-color="#be1826"/><stop offset="0.0836" stop-color="#b50f26"/><stop offset="0.0855" stop-color="#b40e26"/><stop offset="0.0874" stop-color="#b40e26"/><stop offset="0.0892" stop-color="#b40e26"/><stop offset="0.0911" stop-color="#b40e26"/><stop offset="0.0929" stop-color="#b40e26"/><stop offset="0.0948" stop-color="#b40e26"/><stop offset="0.0967" stop-color="#b40e26"/><stop offset="0.0985" stop-color="#b40f26"/><stop offset="0.1004" stop-color="#c51e27"/><stop offset="0.1022" stop-color="#cd2627"/><stop offset="0.1041" stop-color="#cd2627"/><stop offset="0.1059" stop-color="#cd2627"/><stop offset="0.1078" stop-color="#cd2627"/><stop offset="0.1097" stop-color="#cd2627"/><stop offset="0.1115" stop-color="#cd2627"/><stop offset="0.1134" stop-color="#de3f2e"/><stop offset="0.1152" stop-color="#f26a41"/><stop offset="0.1171" stop-color="#f57145"/><stop offset="0.1190" stop-color="#f57446"/><stop offset="0.1208" stop-color="#f57848"/><stop offset="0.1227" stop-color="#f88850"/><stop offset="0.1245" stop-color="#fdb164"/><stop offset="0.1264" stop-color="#fdbd6f"/><stop offset="0.1283" stop-color="#fdc375"/><stop offset="0.1301" stop-color="#fec97b"/><stop offset="0.1320" stop-color="#fecf80"/><stop offset="0.1338" stop-color="#fed485"/><stop offset="0.1357" stop-color="#fed98a"/><stop offset="0.1375" stop-color="#fede8e"/><stop offset="0.1394" stop-color="#fede8e"/><stop offset="0.1413" stop-color="#fedc8c"/><stop offset="0.1431" stop-color="#fed989"/><stop offset="0.1450" stop-color="#fed787"/><stop offset="0.1468" stop-color="#fed888"/><stop offset="0.1487" stop-color="#feda8a"/><stop offset="0.1506" stop-color="#fedc8c"/><stop offset="0.1524" stop-color="#fede8e"/><stop offset="0.1543" stop-color="#fee293"/><stop offset="0.1561" stop-color="#feeda4"/><stop offset="0.1580" stop-color="#fff5b0"/><stop offset="0.1599" stop-color="#fff6b1"/><stop offset="0.1617" stop-color="#fff6b1"/><stop offset="0.1636" stop-color="#fff6b1"/><stop offset="0.1654" stop-color="#fff6b1"/><stop offset="0.1673" stop-color="#fff6b1"/><stop offset="0.1691" stop-color="#fff6b1"/><stop offset="0.1710" stop-color="#fff4af"/><stop offset="0.1729" stop-color="#fef0a8"/><stop offset="0.1747" stop-color="#fef0a8"/><stop offset="0.1766" stop-color="#fef0a8"/><stop offset="0.1784" stop-color="#fef0a8"/><stop offset="0.1803" stop-color="#fef0a8"/><stop offset="0.1822" stop-color="#fef0a8"/><stop offset="0.1840" stop-color="#fef0a8"/><stop offset="0.1859" stop-color="#fff3ac"/><stop offset="0.1877" stop-color="#fffbb9"/><stop offset="0.1896" stop-color="#ffffbf"/><stop offset="0.1914" stop-color="#ffffbf"/><stop offset="0.1933" stop-color="#ffffbf"/><stop offset="0.1952" stop-color="#ffffbf"/><stop offset="0.1970" stop-color="#ffffbf"/><stop offset="0.1989" stop-color="#fffebd"/><stop offset="0.2007" stop-color="#feeba1"/><stop offset="0.2026" stop-color="#fed687"/><stop offset="0.2045" stop-color="#fed485"/><stop offset="0.2063" stop-color="#fed283"/><stop offset="0.2082" stop-color="#fed182"/><stop offset="0.2100" stop-color="#fecf80"/><stop offset="0.2119" stop-color="#fecd7f"/><stop offset="0.2138" stop-color="#fecc7d"/><stop offset="0.2156" stop-color="#fecc7d"/><stop offset="0.2175" stop-color="#fecc7d"/><stop offset="0.2193" stop-color="#fecc7d"/><stop offset="0.2212" stop-color="#fecc7d"/><stop offset="0.2230" stop-color="#fdb96b"/><stop offset="0.2249" stop-color="#f7834d"/><stop offset="0.2268" stop-color="#f67948"/><stop offset="0.2286" stop-color="#f57748"/><stop offset="0.2305" stop-color="#f57647"/><stop offset="0.2323" stop-color="#f57446"/><stop offset="0.2342" stop-color="#f57346"/><stop offset="0.2361" stop-color="#f57145"/><stop offset="0.2379" stop-color="#f47044"/><stop offset="0.2398" stop-color="#f46f44"/><stop offset="0.2416" stop-color="#f46d43"/><stop offset="0.2435" stop-color="#f46d43"/><stop offset="0.2454" stop-color="#f46d43"/><stop offset="0.2472" stop-color="#f46d43"/><stop offset="0.2491" stop-color="#f57547"/><stop offset="0.2509" stop-color="#fb9e5a"/><stop offset="0.2528" stop-color="#fca95e"/><stop offset="0.2546" stop-color="#fba05b"/><stop offset="0.2565" stop-color="#fa9a58"/><stop offset="0.2584" stop-color="#fa9656"/><stop offset="0.2602" stop-color="#f99354"/><stop offset="0.2621" stop-color="#f98f53"/><stop offset="0.2639" stop-color="#f98f53"/><stop offset="0.2658" stop-color="#f99354"/><stop offset="0.2677" stop-color="#fa9656"/><stop offset="0.2695" stop-color="#fa9957"/><stop offset="0.2714" stop-color="#f7854e"/><stop offset="0.2732" stop-color="#f57446"/><stop offset="0.2751" stop-color="#f8884f"/><stop offset="0.2770" stop-color="#fb9d59"/><stop offset="0.2788" stop-color="#fca85e"/><stop offset="0.2807" stop-color="#fdb063"/><stop offset="0.2825" stop-color="#fdb669"/><stop offset="0.2844" stop-color="#fdbc6e"/><stop offset="0.2862" stop-color="#fdc072"/><stop offset="0.2881" stop-color="#fdb769"/><stop offset="0.2900" stop-color="#fdab60"/><stop offset="0.2918" stop-color="#fa9c59"/><stop offset="0.2937" stop-color="#f8884f"/><stop offset="0.2955" stop-color="#f67a49"/><stop offset="0.2974" stop-color="#f67a49"/><stop offset="0.2993" stop-color="#f67e4b"/><stop offset="0.3011" stop-color="#fca55d"/><stop offset="0.3030" stop-color="#fdb86a"/><stop offset="0.3048" stop-color="#fdb86a"/><stop offset="0.3067" stop-color="#fdb86a"/><stop offset="0.3086" stop-color="#fdb86a"/><stop offset="0.3104" stop-color="#fdb86a"/><stop offset="0.3123" stop-color="#fdb76a"/><stop offset="0.3141" stop-color="#fdac60"/><stop offset="0.3160" stop-color="#fa9857"/><stop offset="0.3178" stop-color="#f88e52"/><stop offset="0.3197" stop-color="#f88e52"/><stop offset="0.3216" stop-color="#fdb467"/><stop offset="0.3234" stop-color="#fee395"/><stop offset="0.3253" stop-color="#fee699"/><stop offset="0.3271" stop-color="#fee699"/><stop offset="0.3290" stop-color="#fee699"/><stop offset="0.3309" stop-color="#fee699"/><stop offset="0.3327" stop-color="#fee699"/><stop offset="0.3346" stop-color="#fee699"/><stop offset="0.3364" stop-color="#fed888"/><stop offset="0.3383" stop-color="#fdb265"/><stop offset="0.3401" stop-color="#fdae61"/><stop offset="0.3420" stop-color="#fdae61"/><stop offset="0.3439" stop-color="#fdae61"/><stop offset="0.3457" stop-color="#fdae61"/><stop offset="0.3476" stop-color="#fdae61"/><stop offset="0.3494" stop-color="#fca85e"/><stop offset="0.3513" stop-color="#f99455"/><stop offset="0.3532" stop-color="#f8874f"/><stop offset="0.3550" stop-color="#f77f4b"/><stop offset="0.3569" stop-color="#f67e4b"/><stop offset="0.3587" stop-color="#f88850"/><stop offset="0.3606" stop-color="#f88a50"/><stop offset="0.3625" stop-color="#f7834d"/><stop offset="0.3643" stop-color="#f67d4a"/><stop offset="0.3662" stop-color="#fa9957"/><stop offset="0.3680" stop-color="#fdbe70"/><stop offset="0.3699" stop-color="#feca7b"/><stop offset="0.3717" stop-color="#fed484"/><stop offset="0.3736" stop-color="#fed989"/><stop offset="0.3755" stop-color="#fedc8d"/><stop offset="0.3773" stop-color="#fee090"/><stop offset="0.3792" stop-color="#fee292"/><stop offset="0.3810" stop-color="#fee395"/><stop offset="0.3829" stop-color="#fee597"/><stop offset="0.3848" stop-color="#fee79b"/><stop offset="0.3866" stop-color="#feeea5"/><stop offset="0.3885" stop-color="#fff4af"/><stop offset="0.3903" stop-color="#fffbb8"/><stop offset="0.3922" stop-color="#fdfec2"/><stop offset="0.3941" stop-color="#f8fccc"/><stop offset="0.3959" stop-color="#f2fad6"/><stop offset="0.3978" stop-color="#eaf7e5"/><stop offset="0.3996" stop-color="#def2f7"/><stop offset="0.4015" stop-color="#d5eef5"/><stop offset="0.4033" stop-color="#d5eef5"/><stop offset="0.4052" stop-color="#d5eef5"/><stop offset="0.4071" stop-color="#d7eef5"/><stop offset="0.4089" stop-color="#e6f5ed"/><stop offset="0.4108" stop-color="#f6fbd0"/><stop offset="0.4126" stop-color="#fbfdc7"/><stop offset="0.4145" stop-color="#fdfec3"/><stop offset="0.4164" stop-color="#ffffc0"/><stop offset="0.4182" stop-color="#fdfec3"/><stop offset="0.4201" stop-color="#fbfdc7"/><stop offset="0.4219" stop-color="#fafdc8"/><stop offset="0.4238" stop-color="#ffffbf"/><stop offset="0.4257" stop-color="#fffab7"/><stop offset="0.4275" stop-color="#fff7b2"/><stop offset="0.4294" stop-color="#fff9b6"/><stop offset="0.4312" stop-color="#fffbb9"/><stop offset="0.4331" stop-color="#fffebd"/><stop offset="0.4349" stop-color="#ffffbf"/><stop offset="0.4368" stop-color="#ffffbf"/><stop offset="0.4387" stop-color="#ffffbf"/><stop offset="0.4405" stop-color="#ffffbf"/><stop offset="0.4424" stop-color="#fffdbd"/><stop offset="0.4442" stop-color="#fffbb9"/><stop offset="0.4461" stop-color="#fff8b5"/><stop offset="0.4480" stop-color="#fff6b2"/><stop offset="0.4498" stop-color="#fff4af"/><stop offset="0.4517" stop-color="#fff3ac"/><stop offset="0.4535" stop-color="#fff1aa"/><stop offset="0.4554" stop-color="#fff0a9"/><stop offset="0.4572" stop-color="#fff4ae"/><stop offset="0.4591" stop-color="#fff8b4"/><stop offset="0.4610" stop-color="#fffcba"/><stop offset="0.4628" stop-color="#ffffbf"/><stop offset="0.4647" stop-color="#ffffbf"/><stop offset="0.4665" stop-color="#ffffbf"/><stop offset="0.4684" stop-color="#ffffbf"/><stop offset="0.4703" stop-color="#fffebd"/><stop offset="0.4721" stop-color="#fffab8"/><stop offset="0.4740" stop-color="#fff7b3"/><stop offset="0.4758" stop-color="#fff4ae"/><stop offset="0.4777" stop-color="#fff4ae"/><stop offset="0.4796" stop-color="#fff5b0"/><stop offset="0.4814" stop-color="#fff7b3"/><stop offset="0.4833" stop-color="#fff8b5"/><stop offset="0.4851" stop-color="#fffab7"/><stop offset="0.4870" stop-color="#fffbb9"/><stop offset="0.4888" stop-color="#fffcbb"/><stop offset="0.4907" stop-color="#fffebd"/><stop offset="0.4926" stop-color="#ffffbf"/><stop offset="0.4944" stop-color="#ffffbf"/><stop offset="0.4963" stop-color="#ffffbf"/><stop offset="0.4981" stop-color="#ffffbf"/><stop offset="0.5000" stop-color="#fff6b1"/><stop offset="0.5019" stop-color="#fed283"/><stop offset="0.5037" stop-color="#fcaa5f"/><stop offset="0.5056" stop-color="#f98f53"/><stop offset="0.5074" stop-color="#f99254"/><stop offset="0.5093" stop-color="#f99555"/><stop offset="0.5112" stop-color="#fa9857"/><stop offset="0.5130" stop-color="#fca75e"/><stop offset="0.5149" stop-color="#fec778"/><stop offset="0.5167" stop-color="#fec778"/><stop offset="0.5186" stop-color="#fec778"/><stop offset="0.5204" stop-color="#fec778"/><stop offset="0.5223" stop-color="#fec778"/><stop offset="0.5242" stop-color="#fdbc6e"/><stop offset="0.5260" stop-color="#fa9656"/><stop offset="0.5279" stop-color="#f7854e"/><stop offset="0.5297" stop-color="#f7814c"/><stop offset="0.5316" stop-color="#fdb164"/><stop offset="0.5335" stop-color="#fec778"/><stop offset="0.5353" stop-color="#fec778"/><stop offset="0.5372" stop-color="#fec778"/><stop offset="0.5390" stop-color="#fec778"/><stop offset="0.5409" stop-color="#fec778"/><stop offset="0.5428" stop-color="#fec778"/><stop offset="0.5446" stop-color="#fec778"/><stop offset="0.5465" stop-color="#fdc273"/><stop offset="0.5483" stop-color="#f67c4a"/><stop offset="0.5502" stop-color="#e64e35"/><stop offset="0.5520" stop-color="#e64e35"/><stop offset="0.5539" stop-color="#e64e35"/><stop offset="0.5558" stop-color="#ea5739"/><stop offset="0.5576" stop-color="#f67f4b"/><stop offset="0.5595" stop-color="#f7814c"/><stop offset="0.5613" stop-color="#f47045"/><stop offset="0.5632" stop-color="#ef633e"/><stop offset="0.5651" stop-color="#e95638"/><stop offset="0.5669" stop-color="#f36a42"/><stop offset="0.5688" stop-color="#fdae61"/><stop offset="0.5706" stop-color="#fdc173"/><stop offset="0.5725" stop-color="#fdb769"/><stop offset="0.5743" stop-color="#fa9a58"/><stop offset="0.5762" stop-color="#e85437"/><stop offset="0.5781" stop-color="#ea5839"/><stop offset="0.5799" stop-color="#fee395"/><stop offset="0.5818" stop-color="#fefec1"/><stop offset="0.5836" stop-color="#fcfec4"/><stop offset="0.5855" stop-color="#fafdc7"/><stop offset="0.5874" stop-color="#f8fccc"/><stop offset="0.5892" stop-color="#ecf8e2"/><stop offset="0.5911" stop-color="#e1f3f6"/><stop offset="0.5929" stop-color="#e0f3f8"/><stop offset="0.5948" stop-color="#e0f3f8"/><stop offset="0.5967" stop-color="#e0f3f8"/><stop offset="0.5985" stop-color="#e3f4f3"/><stop offset="0.6004" stop-color="#ebf7e3"/><stop offset="0.6022" stop-color="#f4fbd4"/><stop offset="0.6041" stop-color="#f3fad5"/><stop offset="0.6059" stop-color="#e6f5ed"/><stop offset="0.6078" stop-color="#def2f7"/><stop offset="0.6097" stop-color="#daf0f6"/><stop offset="0.6115" stop-color="#d7eef5"/><stop offset="0.6134" stop-color="#d7eff6"/><stop offset="0.6152" stop-color="#daf0f6"/><stop offset="0.6171" stop-color="#ddf1f7"/><stop offset="0.6190" stop-color="#dff3f8"/><stop offset="0.6208" stop-color="#def2f7"/><stop offset="0.6227" stop-color="#dbf0f7"/><stop offset="0.6245" stop-color="#d8eff6"/><stop offset="0.6264" stop-color="#d3ecf4"/><stop offset="0.6283" stop-color="#bee2ee"/><stop offset="0.6301" stop-color="#acdae9"/><stop offset="0.6320" stop-color="#abd9e9"/><stop offset="0.6338" stop-color="#abd9e9"/><stop offset="0.6357" stop-color="#abd9e9"/><stop offset="0.6375" stop-color="#acdae9"/><stop offset="0.6394" stop-color="#b0dbea"/><stop offset="0.6413" stop-color="#b4ddeb"/><stop offset="0.6431" stop-color="#b7dfec"/><stop offset="0.6450" stop-color="#bbe1ee"/><stop offset="0.6468" stop-color="#bfe3ef"/><stop offset="0.6487" stop-color="#b2ddeb"/><stop offset="0.6506" stop-color="#9ccde3"/><stop offset="0.6524" stop-color="#95c7df"/><stop offset="0.6543" stop-color="#97c9e0"/><stop offset="0.6561" stop-color="#b1dceb"/><stop offset="0.6580" stop-color="#c5e6f0"/><stop offset="0.6599" stop-color="#c5e6f0"/><stop offset="0.6617" stop-color="#c5e6f0"/><stop offset="0.6636" stop-color="#cbe8f2"/><stop offset="0.6654" stop-color="#e7f6eb"/><stop offset="0.6673" stop-color="#fffab8"/><stop offset="0.6691" stop-color="#fee294"/><stop offset="0.6710" stop-color="#fee496"/><stop offset="0.6729" stop-color="#fee99d"/><stop offset="0.6747" stop-color="#fff1aa"/><stop offset="0.6766" stop-color="#fffab7"/><stop offset="0.6784" stop-color="#ffffbf"/><stop offset="0.6803" stop-color="#ffffbf"/><stop offset="0.6822" stop-color="#ffffbf"/><stop offset="0.6840" stop-color="#ffffbf"/><stop offset="0.6859" stop-color="#ffffbf"/><stop offset="0.6877" stop-color="#ffffbf"/><stop offset="0.6896" stop-color="#ffffbf"/><stop offset="0.6914" stop-color="#ffffbf"/><stop offset="0.6933" stop-color="#ffffbf"/><stop offset="0.6952" stop-color="#fffcbb"/><stop offset="0.6970" stop-color="#fff5af"/><stop offset="0.6989" stop-color="#fff3ac"/><stop offset="0.7007" stop-color="#fffbb9"/><stop offset="0.7026" stop-color="#ffffbf"/><stop offset="0.7045" stop-color="#ffffbf"/><stop offset="0.7063" stop-color="#ffffbf"/><stop offset="0.7082" stop-color="#ffffbf"/><stop offset="0.7100" stop-color="#ffffbf"/><stop offset="0.7119" stop-color="#ffffbf"/><stop offset="0.7138" stop-color="#ffffbf"/><stop offset="0.7156" stop-color="#fffebe"/><stop offset="0.7175" stop-color="#fff8b4"/><stop offset="0.7193" stop-color="#fff2ab"/><stop offset="0.7212" stop-color="#fffab7"/><stop offset="0.7230" stop-color="#f9fdc9"/><stop offset="0.7249" stop-color="#f0f9da"/><stop offset="0.7268" stop-color="#eff9dc"/><stop offset="0.7286" stop-color="#eff9dc"/><stop offset="0.7305" stop-color="#eff9dc"/><stop offset="0.7323" stop-color="#eff9dc"/><stop offset="0.7342" stop-color="#eff9dc"/><stop offset="0.7361" stop-color="#eff9dc"/><stop offset="0.7379" stop-color="#f6fccf"/><stop offset="0.7398" stop-color="#fff7b3"/><stop offset="0.7416" stop-color="#fff3ad"/><stop offset="0.7435" stop-color="#fff9b7"/><stop offset="0.7454" stop-color="#feffc0"/><stop offset="0.7472" stop-color="#fafdc9"/><stop offset="0.7491" stop-color="#f5fbd1"/><stop offset="0.7509" stop-color="#eff9dc"/><stop offset="0.7528" stop-color="#dcf1f7"/><stop offset="0.7546" stop-color="#c4e5f0"/><stop offset="0.7565" stop-color="#c0e3ef"/><stop offset="0.7584" stop-color="#bde2ee"/><stop offset="0.7602" stop-color="#b9e0ed"/><stop offset="0.7621" stop-color="#b9e0ed"/><stop offset="0.7639" stop-color="#c8e7f1"/><stop offset="0.7658" stop-color="#ceeaf3"/><stop offset="0.7677" stop-color="#b4deec"/><stop offset="0.7695" stop-color="#9bcde2"/><stop offset="0.7714" stop-color="#8abeda"/><stop offset="0.7732" stop-color="#81b7d6"/><stop offset="0.7751" stop-color="#84bad8"/><stop offset="0.7770" stop-color="#88bdda"/><stop offset="0.7788" stop-color="#b4ddec"/><stop offset="0.7807" stop-color="#edf8e0"/><stop offset="0.7825" stop-color="#f5fbd2"/><stop offset="0.7844" stop-color="#f9fdca"/><stop offset="0.7862" stop-color="#feffc1"/><stop offset="0.7881" stop-color="#fff7b2"/><stop offset="0.7900" stop-color="#fff2ab"/><stop offset="0.7918" stop-color="#fff8b5"/><stop offset="0.7937" stop-color="#fffebe"/><stop offset="0.7955" stop-color="#ffffbf"/><stop offset="0.7974" stop-color="#ffffbf"/><stop offset="0.7993" stop-color="#ffffbf"/><stop offset="0.8011" stop-color="#ffffbf"/><stop offset="0.8030" stop-color="#ffffbf"/><stop offset="0.8048" stop-color="#ffffbf"/><stop offset="0.8067" stop-color="#ffffbf"/><stop offset="0.8086" stop-color="#fff1a9"/><stop offset="0.8104" stop-color="#feca7c"/><stop offset="0.8123" stop-color="#fec778"/><stop offset="0.8141" stop-color="#fec778"/><stop offset="0.8160" stop-color="#fee699"/><stop offset="0.8178" stop-color="#ffffbf"/><stop offset="0.8197" stop-color="#ffffbf"/><stop offset="0.8216" stop-color="#ffffbf"/><stop offset="0.8234" stop-color="#ffffbf"/><stop offset="0.8253" stop-color="#ffffbf"/><stop offset="0.8271" stop-color="#ffffbf"/><stop offset="0.8290" stop-color="#ffffbf"/><stop offset="0.8309" stop-color="#ffffbf"/><stop offset="0.8327" stop-color="#fffebe"/><stop offset="0.8346" stop-color="#fff7b3"/><stop offset="0.8364" stop-color="#fff3ad"/><stop offset="0.8383" stop-color="#fdfec3"/><stop offset="0.8401" stop-color="#ecf8e1"/><stop offset="0.8420" stop-color="#d9f0f6"/><stop offset="0.8439" stop-color="#c5e6f0"/><stop offset="0.8457" stop-color="#c0e3ef"/><stop offset="0.8476" stop-color="#bce1ee"/><stop offset="0.8494" stop-color="#b8dfed"/><stop offset="0.8513" stop-color="#b4ddeb"/><stop offset="0.8532" stop-color="#afdbea"/><stop offset="0.8550" stop-color="#aedaea"/><stop offset="0.8569" stop-color="#b0dcea"/><stop offset="0.8587" stop-color="#a5d4e6"/><stop offset="0.8606" stop-color="#7fb6d6"/><stop offset="0.8625" stop-color="#6297c6"/><stop offset="0.8643" stop-color="#5b90c2"/><stop offset="0.8662" stop-color="#598dc1"/><stop offset="0.8680" stop-color="#5e93c4"/><stop offset="0.8699" stop-color="#6095c5"/><stop offset="0.8717" stop-color="#5d91c3"/><stop offset="0.8736" stop-color="#598dc1"/><stop offset="0.8755" stop-color="#5c90c2"/><stop offset="0.8773" stop-color="#649ac7"/><stop offset="0.8792" stop-color="#6ea6cd"/><stop offset="0.8810" stop-color="#82b9d7"/><stop offset="0.8829" stop-color="#82b8d7"/><stop offset="0.8848" stop-color="#75aed1"/><stop offset="0.8866" stop-color="#598dc1"/><stop offset="0.8885" stop-color="#4575b4"/><stop offset="0.8903" stop-color="#4575b4"/><stop offset="0.8922" stop-color="#4575b4"/><stop offset="0.8941" stop-color="#4575b4"/><stop offset="0.8959" stop-color="#4575b4"/><stop offset="0.8978" stop-color="#4777b5"/><stop offset="0.8996" stop-color="#5082bb"/><stop offset="0.9015" stop-color="#5f94c4"/><stop offset="0.9033" stop-color="#77b0d2"/><stop offset="0.9052" stop-color="#7ab2d4"/><stop offset="0.9071" stop-color="#72aad0"/><stop offset="0.9089" stop-color="#5082bb"/><stop offset="0.9108" stop-color="#4066ad"/><stop offset="0.9126" stop-color="#3f62ab"/><stop offset="0.9145" stop-color="#3e5ea9"/><stop offset="0.9164" stop-color="#6297c6"/><stop offset="0.9182" stop-color="#82b8d7"/><stop offset="0.9201" stop-color="#85bbd9"/><stop offset="0.9219" stop-color="#8abfdb"/><stop offset="0.9238" stop-color="#9dcee3"/><stop offset="0.9257" stop-color="#b2dceb"/><stop offset="0.9275" stop-color="#b2ddeb"/><stop offset="0.9294" stop-color="#afdbea"/><stop offset="0.9312" stop-color="#a9d7e8"/><stop offset="0.9331" stop-color="#99cae1"/><stop offset="0.9349" stop-color="#8bbfdb"/><stop offset="0.9368" stop-color="#8abfdb"/><stop offset="0.9387" stop-color="#8abfdb"/><stop offset="0.9405" stop-color="#8abfdb"/><stop offset="0.9424" stop-color="#8abfdb"/><stop offset="0.9442" stop-color="#8abfdb"/><stop offset="0.9461" stop-color="#a4d4e6"/><stop offset="0.9480" stop-color="#def2f7"/><stop offset="0.9498" stop-color="#f6fbd0"/><stop offset="0.9517" stop-color="#ffffbf"/><stop offset="0.9535" stop-color="#ffffbf"/><stop offset="0.9554" stop-color="#f9fdcb"/><stop offset="0.9572" stop-color="#e1f3f6"/><stop offset="0.9591" stop-color="#d5eef5"/><stop offset="0.9610" stop-color="#d5eef5"/><stop offset="0.9628" stop-color="#d5eef5"/><stop offset="0.9647" stop-color="#d5eef5"/><stop offset="0.9665" stop-color="#e6f5ed"/><stop offset="0.9684" stop-color="#fdfec2"/><stop offset="0.9703" stop-color="#fffcba"/><stop offset="0.9721" stop-color="#fff2ac"/><stop offset="0.9740" stop-color="#fece7f"/><stop offset="0.9758" stop-color="#fdbe70"/><stop offset="0.9777" stop-color="#fdbe70"/><stop offset="0.9796" stop-color="#fdbf71"/><stop offset="0.9814" stop-color="#fdc072"/><stop offset="0.9833" stop-color="#fdc173"/><stop offset="0.9851" stop-color="#fdc273"/><stop offset="0.9870" stop-color="#fdb769"/><stop offset="0.9888" stop-color="#fba35c"/><stop offset="0.9907" stop-color="#fba15b"/><stop offset="0.9926" stop-color="#fba15b"/><stop offset="0.9944" stop-color="#fba15b"/><stop offset="0.9963" stop-color="#fba15b"/><stop offset="0.9981" stop-color="#fba15b"/><stop offset="1.0000" stop-color="#fba15b"/></linearGradient>
<linearGradient id="r4" x1="0" x2="1" y1="0" y2="0"><stop offset="0.0000" stop-color="#d22b27"/><stop offset="0.0019" stop-color="#d22b27"/><stop offset="0.0037" stop-color="#d22b27"/><stop offset="0.0056" stop-color="#d22b27"/><stop offset="0.0074" stop-color="#d22b27"/><stop offset="0.0093" stop-color="#d22b27"/><stop offset="0.0112" stop-color="#d22b27"/><stop offset="0.0130" stop-color="#cd2627"/><stop offset="0.0149" stop-color="#c01a27"/><stop offset="0.0167" stop-color="#be1826"/><stop offset="0.0186" stop-color="#be1826"/><stop offset="0.0204" stop-color="#be1826"/><stop offset="0.0223" stop-color="#be1826"/><stop offset="0.0242" stop-color="#be1826"/><stop offset="0.0260" stop-color="#be1826"/><stop offset="0.0279" stop-color="#be1826"/><stop offset="0.0297" stop-color="#be1826"/><stop offset="0.0316" stop-color="#be1826"/><stop offset="0.0335" stop-color="#be1826"/><stop offset="0.0353" stop-color="#be1826"/><stop offset="0.0372" stop-color="#be1826"/><stop offset="0.0390" stop-color="#be1826"/><stop offset="0.0409" stop-color="#c01a27"/><stop offset="0.0428" stop-color="#c92327"/><stop offset="0.0446" stop-color="#ce2727"/><stop offset="0.0465" stop-color="#cf2827"/><stop offset="0.0483" stop-color="#d02927"/><stop offset="0.0502" stop-color="#d12b27"/><stop offset="0.0520" stop-color="#ce2727"/><stop offset="0.0539" stop-color="#c41e27"/><stop offset="0.0558" stop-color="#c41d27"/><stop offset="0.0576" stop-color="#c41e27"/><stop offset="0.0595" stop-color="#c51e27"/><stop offset="0.0613" stop-color="#c51f27"/><stop offset="0.0632" stop-color="#c61f27"/><stop offset="0.0651" stop-color="#c62027"/><stop offset="0.0669" stop-color="#c72027"/><stop offset="0.0688" stop-color="#c72127"/><stop offset="0.0706" stop-color="#c82127"/><stop offset="0.0725" stop-color="#c62027"/><stop offset="0.0743" stop-color="#c51e27"/><stop offset="0.0762" stop-color="#c31d27"/><stop offset="0.0781" stop-color="#c11b27"/><stop offset="0.0799" stop-color="#bf1927"/><stop offset="0.0818" stop-color="#bc1626"/><stop offset="0.0836" stop-color="#b10c26"/><stop offset="0.0855" stop-color="#aa0526"/><stop offset="0.0874" stop-color="#aa0526"/><stop offset="0.0892" stop-color="#aa0526"/><stop offset="0.0911" stop-color="#aa0526"/><stop offset="0.0929" stop-color="#aa0526"/><stop offset="0.0948" stop-color="#aa0526"/><stop offset="0.0967" stop-color="#aa0526"/><stop offset="0.0985" stop-color="#aa0526"/><stop offset="0.1004" stop-color="#aa0526"/><stop offset="0.1022" stop-color="#aa0526"/><stop offset="0.1041" stop-color="#aa0526"/><stop offset="0.1059" stop-color="#aa0526"/><stop offset="0.1078" stop-color="#aa0526"/><stop offset="0.1097" stop-color="#aa0526"/><stop offset="0.1115" stop-color="#aa0526"/><stop offset="0.1134" stop-color="#ac0726"/><stop offset="0.1152" stop-color="#b91326"/><stop offset="0.1171" stop-color="#bf1927"/><stop offset="0.1190" stop-color="#c01a27"/><stop offset="0.1208" stop-color="#c11b27"/><stop offset="0.1227" stop-color="#c21c27"/><stop offset="0.1245" stop-color="#c51f27"/><stop offset="0.1264" stop-color="#ca2427"/><stop offset="0.1283" stop-color="#cd2627"/><stop offset="0.1301" stop-color="#cd2627"/><stop offset="0.1320" stop-color="#cd2627"/><stop offset="0.1338" stop-color="#cd2627"/><stop offset="0.1357" stop-color="#cd2627"/><stop offset="0.1375" stop-color="#cd2627"/><stop offset="0.1394" stop-color="#cd2627"/><stop offset="0.1413" stop-color="#c92327"/><stop offset="0.1431" stop-color="#c41e27"/><stop offset="0.1450" stop-color="#c41e27"/><stop offset="0.1468" stop-color="#c51e27"/><stop offset="0.1487" stop-color="#c61f27"/><stop offset="0.1506" stop-color="#c62027"/><stop offset="0.1524" stop-color="#c72127"/><stop offset="0.1543" stop-color="#cd2727"/><stop offset="0.1561" stop-color="#e0422f"/><stop offset="0.1580" stop-color="#eb593a"/><stop offset="0.1599" stop-color="#eb5b3b"/><stop offset="0.1617" stop-color="#eb5b3b"/><stop offset="0.1636" stop-color="#eb5b3b"/><stop offset="0.1654" stop-color="#eb5b3b"/><stop offset="0.1673" stop-color="#eb5b3b"/><stop offset="0.1691" stop-color="#eb5b3b"/><stop offset="0.1710" stop-color="#eb5b3b"/><stop offset="0.1729" stop-color="#ec5c3b"/><stop offset="0.1747" stop-color="#ec5d3c"/><stop offset="0.1766" stop-color="#ed5e3c"/><stop offset="0.1784" stop-color="#ed5f3d"/><stop offset="0.1803" stop-color="#ee603d"/><stop offset="0.1822" stop-color="#ef623e"/><stop offset="0.1840" stop-color="#f0653f"/><stop offset="0.1859" stop-color="#f26841"/><stop offset="0.1877" stop-color="#f36b42"/><stop offset="0.1896" stop-color="#f36c42"/><stop offset="0.1914" stop-color="#f26941"/><stop offset="0.1933" stop-color="#f16740"/><stop offset="0.1952" stop-color="#f0643f"/><stop offset="0.1970" stop-color="#ef623e"/><stop offset="0.1989" stop-color="#ef633e"/><stop offset="0.2007" stop-color="#f0653f"/><stop offset="0.2026" stop-color="#f26841"/><stop offset="0.2045" stop-color="#f36a42"/><stop offset="0.2063" stop-color="#f46d43"/><stop offset="0.2082" stop-color="#f46d43"/><stop offset="0.2100" stop-color="#f46d43"/><stop offset="0.2119" stop-color="#f46d43"/><stop offset="0.2138" stop-color="#f46c43"/><stop offset="0.2156" stop-color="#f36a42"/><stop offset="0.2175" stop-color="#f16840"/><stop offset="0.2193" stop-color="#f0653f"/><stop offset="0.2212" stop-color="#ef623e"/><stop offset="0.2230" stop-color="#eb5b3b"/><stop offset="0.2249" stop-color="#e44b33"/><stop offset="0.2268" stop-color="#e34a33"/><stop offset="0.2286" stop-color="#eb5a3a"/><stop offset="0.2305" stop-color="#ee613d"/><stop offset="0.2323" stop-color="#ee613d"/><stop offset="0.2342" stop-color="#ee613d"/><stop offset="0.2361" stop-color="#ee613d"/><stop offset="0.2379" stop-color="#ee613d"/><stop offset="0.2398" stop-color="#ee613d"/><stop offset="0.2416" stop-color="#ee613d"/><stop offset="0.2435" stop-color="#ef633e"/><stop offset="0.2454" stop-color="#f16640"/><stop offset="0.2472" stop-color="#f26841"/><stop offset="0.2491" stop-color="#f36b42"/><stop offset="0.2509" stop-color="#f46e43"/><stop offset="0.2528" stop-color="#f57245"/><stop offset="0.2546" stop-color="#f57748"/><stop offset="0.2565" stop-color="#f67948"/><stop offset="0.2584" stop-color="#f57647"/><stop offset="0.2602" stop-color="#f57245"/><stop offset="0.2621" stop-color="#f46f44"/><stop offset="0.2639" stop-color="#f46f44"/><stop offset="0.2658" stop-color="#f57245"/><stop offset="0.2677" stop-color="#f57547"/><stop offset="0.2695" stop-color="#f67948"/><stop offset="0.2714" stop-color="#f57547"/><stop offset="0.2732" stop-color="#f46f44"/><stop offset="0.2751" stop-color="#f57748"/><stop offset="0.2770" stop-color="#f7844e"/><stop offset="0.2788" stop-color="#f8884f"/><stop offset="0.2807" stop-color="#f88950"/><stop offset="0.2825" stop-color="#f88a50"/><stop offset="0.2844" stop-color="#f88b51"/><stop offset="0.2862" stop-color="#f88d52"/><stop offset="0.2881" stop-color="#f88b51"/><stop offset="0.2900" stop-color="#f7804c"/><stop offset="0.2918" stop-color="#f57547"/><stop offset="0.2937" stop-color="#f46f44"/><stop offset="0.2955" stop-color="#f57346"/><stop offset="0.2974" stop-color="#f57748"/><stop offset="0.2993" stop-color="#f7864e"/><stop offset="0.3011" stop-color="#fba15b"/><stop offset="0.3030" stop-color="#fdc072"/><stop offset="0.3048" stop-color="#fedd8d"/><stop offset="0.3067" stop-color="#fee090"/><stop offset="0.3086" stop-color="#fee090"/><stop offset="0.3104" stop-color="#fee090"/><stop offset="0.3123" stop-color="#fee090"/><stop offset="0.3141" stop-color="#fee090"/><stop offset="0.3160" stop-color="#fee090"/><stop offset="0.3178" stop-color="#fee090"/><stop offset="0.3197" stop-color="#fee090"/><stop offset="0.3216" stop-color="#fee497"/><stop offset="0.3234" stop-color="#fcfec5"/><stop offset="0.3253" stop-color="#e2f4f4"/><stop offset="0.3271" stop-color="#e0f3f8"/><stop offset="0.3290" stop-color="#e0f3f8"/><stop offset="0.3309" stop-color="#e0f3f8"/><stop offset="0.3327" stop-color="#e0f3f8"/><stop offset="0.3346" stop-color="#e0f3f8"/><stop offset="0.3364" stop-color="#e6f5ed"/><stop offset="0.3383" stop-color="#fee699"/><stop offset="0.3401" stop-color="#fed484"/><stop offset="0.3420" stop-color="#fed182"/><stop offset="0.3439" stop-color="#fff0a8"/><stop offset="0.3457" stop-color="#fffebd"/><stop offset="0.3476" stop-color="#ffffbf"/><stop offset="0.3494" stop-color="#ffffbf"/><stop offset="0.3513" stop-color="#fffdbc"/><stop offset="0.3532" stop-color="#fff5b0"/><stop offset="0.3550" stop-color="#fff2ab"/><stop offset="0.3569" stop-color="#fff7b2"/><stop offset="0.3587" stop-color="#fffcbb"/><stop offset="0.3606" stop-color="#fffebd"/><stop offset="0.3625" stop-color="#fffcba"/><stop offset="0.3643" stop-color="#fffab7"/><stop offset="0.3662" stop-color="#fffab8"/><stop offset="0.3680" stop-color="#fffdbc"/><stop offset="0.3699" stop-color="#f6fccf"/><stop offset="0.3717" stop-color="#d3edf4"/><stop offset="0.3736" stop-color="#c5e6f0"/><stop offset="0.3755" stop-color="#c3e5f0"/><stop offset="0.3773" stop-color="#c2e4f0"/><stop offset="0.3792" stop-color="#c1e4ef"/><stop offset="0.3810" stop-color="#c0e3ef"/><stop offset="0.3829" stop-color="#bfe3ef"/><stop offset="0.3848" stop-color="#bee2ee"/><stop offset="0.3866" stop-color="#bde2ee"/><stop offset="0.3885" stop-color="#bce1ee"/><stop offset="0.3903" stop-color="#acd9e9"/><stop offset="0.3922" stop-color="#7db4d5"/><stop offset="0.3941" stop-color="#669dc9"/><stop offset="0.3959" stop-color="#578abf"/><stop offset="0.3978" stop-color="#4473b3"/><stop offset="0.3996" stop-color="#3c58a6"/><stop offset="0.4015" stop-color="#3b56a5"/><stop offset="0.4033" stop-color="#3b56a5"/><stop offset="0.4052" stop-color="#4473b3"/><stop offset="0.4071" stop-color="#5f94c4"/><stop offset="0.4089" stop-color="#6ea5cd"/><stop offset="0.4108" stop-color="#7bb3d4"/><stop offset="0.4126" stop-color="#78b1d3"/><stop offset="0.4145" stop-color="#71aacf"/><stop offset="0.4164" stop-color="#6ba2cb"/><stop offset="0.4182" stop-color="#649ac7"/><stop offset="0.4201" stop-color="#5d92c3"/><stop offset="0.4219" stop-color="#588cc0"/><stop offset="0.4238" stop-color="#588bc0"/><stop offset="0.4257" stop-color="#588bc0"/><stop offset="0.4275" stop-color="#5c91c2"/><stop offset="0.4294" stop-color="#6ba2cb"/><stop offset="0.4312" stop-color="#7fb6d6"/><stop offset="0.4331" stop-color="#9ccde2"/><stop offset="0.4349" stop-color="#b6deec"/><stop offset="0.4368" stop-color="#cce9f2"/><stop offset="0.4387" stop-color="#c4e5f0"/><stop offset="0.4405" stop-color="#a9d8e8"/><stop offset="0.4424" stop-color="#96c8e0"/><stop offset="0.4442" stop-color="#84bad8"/><stop offset="0.4461" stop-color="#7fb6d6"/><stop offset="0.4480" stop-color="#7fb6d6"/><stop offset="0.4498" stop-color="#7fb6d6"/><stop offset="0.4517" stop-color="#7fb6d6"/><stop offset="0.4535" stop-color="#86bbd9"/><stop offset="0.4554" stop-color="#c3e5f0"/><stop offset="0.4572" stop-color="#f6fccf"/><stop offset="0.4591" stop-color="#fee89d"/><stop offset="0.4610" stop-color="#fee496"/><stop offset="0.4628" stop-color="#fee292"/><stop offset="0.4647" stop-color="#fee293"/><stop offset="0.4665" stop-color="#fee79b"/><stop offset="0.4684" stop-color="#feeca3"/><stop offset="0.4703" stop-color="#feeea6"/><stop offset="0.4721" stop-color="#feeca2"/><stop offset="0.4740" stop-color="#feea9f"/><stop offset="0.4758" stop-color="#fee79b"/><stop offset="0.4777" stop-color="#fdc173"/><stop offset="0.4796" stop-color="#fa9a58"/><stop offset="0.4814" stop-color="#fa9a58"/><stop offset="0.4833" stop-color="#fba15b"/><stop offset="0.4851" stop-color="#fee99e"/><stop offset="0.4870" stop-color="#f3fad5"/><stop offset="0.4888" stop-color="#e2f4f4"/><stop offset="0.4907" stop-color="#ddf2f7"/><stop offset="0.4926" stop-color="#dbf0f6"/><stop offset="0.4944" stop-color="#d8eff6"/><stop offset="0.4963" stop-color="#dff2f8"/><stop offset="0.4981" stop-color="#f7fccd"/><stop offset="0.5000" stop-color="#fef0a8"/><stop offset="0.5019" stop-color="#fed485"/><stop offset="0.5037" stop-color="#fdac60"/><stop offset="0.5056" stop-color="#fba15b"/><stop offset="0.5074" stop-color="#fba15b"/><stop offset="0.5093" stop-color="#fba15b"/><stop offset="0.5112" stop-color="#fba15b"/><stop offset="0.5130" stop-color="#fec97b"/><stop offset="0.5149" stop-color="#e9f6e8"/><stop offset="0.5167" stop-color="#ebf7e4"/><stop offset="0.5186" stop-color="#eef8df"/><stop offset="0.5204" stop-color="#eff9dc"/><stop offset="0.5223" stop-color="#eff9dc"/><stop offset="0.5242" stop-color="#eff9dc"/><stop offset="0.5260" stop-color="#f1fad8"/><stop offset="0.5279" stop-color="#fff6b2"/><stop offset="0.5297" stop-color="#feeca2"/><stop offset="0.5316" stop-color="#fff9b6"/><stop offset="0.5335" stop-color="#fafdc7"/><stop offset="0.5353" stop-color="#f2fad7"/><stop offset="0.5372" stop-color="#e9f7e7"/><stop offset="0.5390" stop-color="#e5f5ee"/><stop offset="0.5409" stop-color="#e4f5f0"/><stop offset="0.5428" stop-color="#e3f4f2"/><stop offset="0.5446" stop-color="#e2f4f5"/><stop offset="0.5465" stop-color="#e1f3f7"/><stop offset="0.5483" stop-color="#eef8de"/><stop offset="0.5502" stop-color="#fff2ab"/><stop offset="0.5520" stop-color="#fee597"/><stop offset="0.5539" stop-color="#fee496"/><stop offset="0.5558" stop-color="#feeaa0"/><stop offset="0.5576" stop-color="#fff6b1"/><stop offset="0.5595" stop-color="#eef8de"/><stop offset="0.5613" stop-color="#e5f5ef"/><stop offset="0.5632" stop-color="#e4f4f1"/><stop offset="0.5651" stop-color="#e2f4f4"/><stop offset="0.5669" stop-color="#e1f3f7"/><stop offset="0.5688" stop-color="#d2ecf4"/><stop offset="0.5706" stop-color="#bae1ed"/><stop offset="0.5725" stop-color="#c7e7f1"/><stop offset="0.5743" stop-color="#d3ecf4"/><stop offset="0.5762" stop-color="#cce9f2"/><stop offset="0.5781" stop-color="#addaea"/><stop offset="0.5799" stop-color="#5f95c4"/><stop offset="0.5818" stop-color="#5588be"/><stop offset="0.5836" stop-color="#5284bc"/><stop offset="0.5855" stop-color="#5082bb"/><stop offset="0.5874" stop-color="#588bc0"/><stop offset="0.5892" stop-color="#6297c6"/><stop offset="0.5911" stop-color="#6ca3cc"/><stop offset="0.5929" stop-color="#76aed2"/><stop offset="0.5948" stop-color="#81b8d7"/><stop offset="0.5967" stop-color="#8abeda"/><stop offset="0.5985" stop-color="#8abfdb"/><stop offset="0.6004" stop-color="#8abfdb"/><stop offset="0.6022" stop-color="#89bdda"/><stop offset="0.6041" stop-color="#85bad8"/><stop offset="0.6059" stop-color="#81b7d7"/><stop offset="0.6078" stop-color="#86bcd9"/><stop offset="0.6097" stop-color="#94c7df"/><stop offset="0.6115" stop-color="#a6d5e7"/><stop offset="0.6134" stop-color="#c7e7f1"/><stop offset="0.6152" stop-color="#e3f4f3"/><stop offset="0.6171" stop-color="#f0f9da"/><stop offset="0.6190" stop-color="#feffc1"/><stop offset="0.6208" stop-color="#feeba1"/><stop offset="0.6227" stop-color="#fed283"/><stop offset="0.6245" stop-color="#fedb8b"/><stop offset="0.6264" stop-color="#fee79a"/><stop offset="0.6283" stop-color="#feefa7"/><stop offset="0.6301" stop-color="#fff8b4"/><stop offset="0.6320" stop-color="#ffffbe"/><stop offset="0.6338" stop-color="#ffffbf"/><stop offset="0.6357" stop-color="#ffffbf"/><stop offset="0.6375" stop-color="#ffffbf"/><stop offset="0.6394" stop-color="#fff6b2"/><stop offset="0.6413" stop-color="#fedf8f"/><stop offset="0.6431" stop-color="#fdc274"/><stop offset="0.6450" stop-color="#fdad60"/><stop offset="0.6468" stop-color="#fdb063"/><stop offset="0.6487" stop-color="#fdc576"/><stop offset="0.6506" stop-color="#fed182"/><stop offset="0.6524" stop-color="#fed888"/><stop offset="0.6543" stop-color="#fede8e"/><stop offset="0.6561" stop-color="#fede8e"/><stop offset="0.6580" stop-color="#fedb8c"/><stop offset="0.6599" stop-color="#fed989"/><stop offset="0.6617" stop-color="#fed485"/><stop offset="0.6636" stop-color="#fdc173"/><stop offset="0.6654" stop-color="#fca85e"/><stop offset="0.6673" stop-color="#f67c4a"/><stop offset="0.6691" stop-color="#dd3c2c"/><stop offset="0.6710" stop-color="#cd2627"/><stop offset="0.6729" stop-color="#cd2627"/><stop offset="0.6747" stop-color="#cd2627"/><stop offset="0.6766" stop-color="#cd2627"/><stop offset="0.6784" stop-color="#c72127"/><stop offset="0.6803" stop-color="#ba1526"/><stop offset="0.6822" stop-color="#b91326"/><stop offset="0.6840" stop-color="#b51026"/><stop offset="0.6859" stop-color="#aa0526"/><stop offset="0.6877" stop-color="#aa0526"/><stop offset="0.6896" stop-color="#aa0526"/><stop offset="0.6914" stop-color="#aa0526"/><stop offset="0.6933" stop-color="#ab0626"/><stop offset="0.6952" stop-color="#bd1726"/><stop offset="0.6970" stop-color="#ce2727"/><stop offset="0.6989" stop-color="#d32c27"/><stop offset="0.7007" stop-color="#d83228"/><stop offset="0.7026" stop-color="#e65136"/><stop offset="0.7045" stop-color="#ef623e"/><stop offset="0.7063" stop-color="#f16640"/><stop offset="0.7082" stop-color="#f26941"/><stop offset="0.7100" stop-color="#f36c42"/><stop offset="0.7119" stop-color="#ee613d"/><stop offset="0.7138" stop-color="#e95639"/><stop offset="0.7156" stop-color="#eb5a3a"/><stop offset="0.7175" stop-color="#ed5e3c"/><stop offset="0.7193" stop-color="#f67948"/><stop offset="0.7212" stop-color="#fdb265"/><stop offset="0.7230" stop-color="#fec97b"/><stop offset="0.7249" stop-color="#fece7f"/><stop offset="0.7268" stop-color="#fed283"/><stop offset="0.7286" stop-color="#fed586"/><stop offset="0.7305" stop-color="#fed384"/><stop offset="0.7323" stop-color="#fed182"/><stop offset="0.7342" stop-color="#fecf80"/><stop offset="0.7361" stop-color="#fecd7e"/><stop offset="0.7379" stop-color="#fec879"/><stop offset="0.7398" stop-color="#fdbd6f"/><stop offset="0.7416" stop-color="#fdc375"/><stop offset="0.7435" stop-color="#fed888"/><stop offset="0.7454" stop-color="#fee090"/><stop offset="0.7472" stop-color="#fee090"/><stop offset="0.7491" stop-color="#fee090"/><stop offset="0.7509" stop-color="#fee090"/><stop offset="0.7528" stop-color="#fee090"/><stop offset="0.7546" stop-color="#fee090"/><stop offset="0.7565" stop-color="#fee090"/><stop offset="0.7584" stop-color="#fede8e"/><stop offset="0.7602" stop-color="#fece7f"/><stop offset="0.7621" stop-color="#fdc273"/><stop offset="0.7639" stop-color="#fed182"/><stop offset="0.7658" stop-color="#fedf8f"/><stop offset="0.7677" stop-color="#fee191"/><stop offset="0.7695" stop-color="#fee192"/><stop offset="0.7714" stop-color="#fee293"/><stop offset="0.7732" stop-color="#fee394"/><stop offset="0.7751" stop-color="#fee395"/><stop offset="0.7770" stop-color="#fee496"/><stop offset="0.7788" stop-color="#fee597"/><stop offset="0.7807" stop-color="#fee598"/><stop offset="0.7825" stop-color="#fee699"/><stop offset="0.7844" stop-color="#fee699"/><stop offset="0.7862" stop-color="#fee699"/><stop offset="0.7881" stop-color="#fee699"/><stop offset="0.7900" stop-color="#fee69a"/><stop offset="0.7918" stop-color="#fee89d"/><stop offset="0.7937" stop-color="#feeba0"/><stop offset="0.7955" stop-color="#feeda4"/><stop offset="0.7974" stop-color="#fff1a9"/><stop offset="0.7993" stop-color="#fffbb9"/><stop offset="0.8011" stop-color="#fff4af"/><stop offset="0.8030" stop-color="#fee79b"/><stop offset="0.8048" stop-color="#fee598"/><stop offset="0.8067" stop-color="#fee597"/><stop offset="0.8086" stop-color="#fee496"/><stop offset="0.8104" stop-color="#fee395"/><stop offset="0.8123" stop-color="#fee294"/><stop offset="0.8141" stop-color="#fee293"/><stop offset="0.8160" stop-color="#fee192"/><stop offset="0.8178" stop-color="#fee090"/><stop offset="0.8197" stop-color="#fedd8d"/><stop offset="0.8216" stop-color="#fed888"/><stop offset="0.8234" stop-color="#fed283"/><stop offset="0.8253" stop-color="#fecd7f"/><stop offset="0.8271" stop-color="#fece7f"/><stop offset="0.8290" stop-color="#fed182"/><stop offset="0.8309" stop-color="#fed384"/><stop offset="0.8327" stop-color="#fed687"/><stop offset="0.8346" stop-color="#fed989"/><stop offset="0.8364" stop-color="#fedb8c"/><stop offset="0.8383" stop-color="#fede8e"/><stop offset="0.8401" stop-color="#fee090"/><stop offset="0.8420" stop-color="#fee292"/><stop offset="0.8439" stop-color="#fee394"/><stop offset="0.8457" stop-color="#fee496"/><stop offset="0.8476" stop-color="#fee598"/><stop offset="0.8494" stop-color="#fee699"/><stop offset="0.8513" stop-color="#fee699"/><stop offset="0.8532" stop-color="#fee699"/><stop offset="0.8550" stop-color="#fee99e"/><stop offset="0.8569" stop-color="#fff4af"/><stop offset="0.8587" stop-color="#fffdbc"/><stop offset="0.8606" stop-color="#e9f6e8"/><stop offset="0.8625" stop-color="#d1ecf4"/><stop offset="0.8643" stop-color="#bbe1ed"/><stop offset="0.8662" stop-color="#9fcfe4"/><stop offset="0.8680" stop-color="#8bbfdb"/><stop offset="0.8699" stop-color="#8abfdb"/><stop offset="0.8717" stop-color="#8abfdb"/><stop offset="0.8736" stop-color="#8abfdb"/><stop offset="0.8755" stop-color="#8abfdb"/><stop offset="0.8773" stop-color="#8abfdb"/><stop offset="0.8792" stop-color="#88bdda"/><stop offset="0.8810" stop-color="#84bad8"/><stop offset="0.8829" stop-color="#80b6d6"/><stop offset="0.8848" stop-color="#76afd2"/><stop offset="0.8866" stop-color="#6da4cc"/><stop offset="0.8885" stop-color="#6ba2cb"/><stop offset="0.8903" stop-color="#6ba2cb"/><stop offset="0.8922" stop-color="#6ba2cb"/><stop offset="0.8941" stop-color="#6ba2cb"/><stop offset="0.8959" stop-color="#6ba2cb"/><stop offset="0.8978" stop-color="#6ea5cd"/><stop offset="0.8996" stop-color="#7db4d5"/><stop offset="0.9015" stop-color="#88bdda"/><stop offset="0.9033" stop-color="#85bbd9"/><stop offset="0.9052" stop-color="#81b8d7"/><stop offset="0.9071" stop-color="#7cb3d5"/><stop offset="0.9089" stop-color="#74add1"/><stop offset="0.9108" stop-color="#6ea6cd"/><stop offset="0.9126" stop-color="#689fca"/><stop offset="0.9145" stop-color="#6399c7"/><stop offset="0.9164" stop-color="#6398c6"/><stop offset="0.9182" stop-color="#659bc8"/><stop offset="0.9201" stop-color="#689ec9"/><stop offset="0.9219" stop-color="#6aa1cb"/><stop offset="0.9238" stop-color="#70a8ce"/><stop offset="0.9257" stop-color="#77afd2"/><stop offset="0.9275" stop-color="#7cb3d4"/><stop offset="0.9294" stop-color="#6ba2cb"/><stop offset="0.9312" stop-color="#6197c5"/><stop offset="0.9331" stop-color="#6197c5"/><stop offset="0.9349" stop-color="#6197c5"/><stop offset="0.9368" stop-color="#6197c5"/><stop offset="0.9387" stop-color="#6197c5"/><stop offset="0.9405" stop-color="#6197c5"/><stop offset="0.9424" stop-color="#6197c5"/><stop offset="0.9442" stop-color="#679dc9"/><stop offset="0.9461" stop-color="#76afd2"/><stop offset="0.9480" stop-color="#87bcd9"/><stop offset="0.9498" stop-color="#99cae1"/><stop offset="0.9517" stop-color="#99cbe1"/><stop offset="0.9535" stop-color="#8ec2dc"/><stop offset="0.9554" stop-color="#8abfdb"/><stop offset="0.9572" stop-color="#8abfdb"/><stop offset="0.9591" stop-color="#8abfdb"/><stop offset="0.9610" stop-color="#8abfdb"/><stop offset="0.9628" stop-color="#8abfdb"/><stop offset="0.9647" stop-color="#98cae1"/><stop offset="0.9665" stop-color="#fffdbb"/><stop offset="0.9684" stop-color="#fee598"/><stop offset="0.9703" stop-color="#fee496"/><stop offset="0.9721" stop-color="#fee294"/><stop offset="0.9740" stop-color="#fee192"/><stop offset="0.9758" stop-color="#fee090"/><stop offset="0.9777" stop-color="#fede8e"/><stop offset="0.9796" stop-color="#fedd8d"/><stop offset="0.9814" stop-color="#fedb8b"/><stop offset="0.9833" stop-color="#feda8a"/><stop offset="0.9851" stop-color="#fed889"/><stop offset="0.9870" stop-color="#fed787"/><stop offset="0.9888" stop-color="#fedc8c"/><stop offset="0.9907" stop-color="#fee496"/><stop offset="0.9926" stop-color="#fee496"/><stop offset="0.9944" stop-color="#fee191"/><stop offset="0.9963" stop-color="#fed586"/><stop offset="0.9981" stop-color="#fecc7d"/><stop offset="1.0000" stop-color="#fecc7d"/></linearGradient>
<linearGradient id="r5" x1="0" x2="1" y1="0" y2="0"><stop offset="0.0000" stop-color="#e64f35"/><stop offset="0.0019" stop-color="#e65036"/><stop offset="0.0037" stop-color="#e75236"/><stop offset="0.0056" stop-color="#e85337"/><stop offset="0.0074" stop-color="#e95538"/><stop offset="0.0093" stop-color="#e95739"/><stop offset="0.0112" stop-color="#ea5839"/><stop offset="0.0130" stop-color="#eb5a3a"/><stop offset="0.0149" stop-color="#ea5739"/><stop offset="0.0167" stop-color="#e54d35"/><stop offset="0.0186" stop-color="#e44a33"/><stop offset="0.0204" stop-color="#e64f35"/><stop offset="0.0223" stop-color="#e85337"/><stop offset="0.0242" stop-color="#e75237"/><stop offset="0.0260" stop-color="#e54e35"/><stop offset="0.0279" stop-color="#e44b33"/><stop offset="0.0297" stop-color="#e24731"/><stop offset="0.0316" stop-color="#e04330"/><stop offset="0.0335" stop-color="#e0422f"/><stop offset="0.0353" stop-color="#e0422f"/><stop offset="0.0372" stop-color="#e0422f"/><stop offset="0.0390" stop-color="#e0422f"/><stop offset="0.0409" stop-color="#e54d34"/><stop offset="0.0428" stop-color="#e85538"/><stop offset="0.0446" stop-color="#e85538"/><stop offset="0.0465" stop-color="#e85538"/><stop offset="0.0483" stop-color="#e85538"/><stop offset="0.0502" stop-color="#e85538"/><stop offset="0.0520" stop-color="#e85538"/><stop offset="0.0539" stop-color="#e85538"/><stop offset="0.0558" stop-color="#e85538"/><stop offset="0.0576" stop-color="#e85538"/><stop offset="0.0595" stop-color="#e75136"/><stop offset="0.0613" stop-color="#dd3e2d"/><stop offset="0.0632" stop-color="#da362a"/><stop offset="0.0651" stop-color="#d93529"/><stop offset="0.0669" stop-color="#d93429"/><stop offset="0.0688" stop-color="#d93329"/><stop offset="0.0706" stop-color="#d83328"/><stop offset="0.0725" stop-color="#d83228"/><stop offset="0.0743" stop-color="#d83128"/><stop offset="0.0762" stop-color="#d73127"/><stop offset="0.0781" stop-color="#d52e27"/><stop offset="0.0799" stop-color="#cc2527"/><stop offset="0.0818" stop-color="#c01a27"/><stop offset="0.0836" stop-color="#b30e26"/><stop offset="0.0855" stop-color="#aa0526"/><stop offset="0.0874" stop-color="#aa0526"/><stop offset="0.0892" stop-color="#aa0526"/><stop offset="0.0911" stop-color="#aa0526"/><stop offset="0.0929" stop-color="#aa0526"/><stop offset="0.0948" stop-color="#aa0526"/><stop offset="0.0967" stop-color="#aa0526"/><stop offset="0.0985" stop-color="#aa0526"/><stop offset="0.1004" stop-color="#aa0526"/><stop offset="0.1022" stop-color="#aa0526"/><stop offset="0.1041" stop-color="#aa0526"/><stop offset="0.1059" stop-color="#aa0526"/><stop offset="0.1078" stop-color="#aa0526"/><stop offset="0.1097" stop-color="#aa0526"/><stop offset="0.1115" stop-color="#aa0526"/><stop offset="0.1134" stop-color="#ad0826"/><stop offset="0.1152" stop-color="#c41d27"/><stop offset="0.1171" stop-color="#ce2827"/><stop offset="0.1190" stop-color="#d12a27"/><stop offset="0.1208" stop-color="#d32c27"/><stop offset="0.1227" stop-color="#d52f27"/><stop offset="0.1245" stop-color="#d73027"/><stop offset="0.1264" stop-color="#d62f27"/><stop offset="0.1283" stop-color="#d62f27"/><stop offset="0.1301" stop-color="#d52e27"/><stop offset="0.1320" stop-color="#d42e27"/><stop offset="0.1338" stop-color="#d42d27"/><stop offset="0.1357" stop-color="#d32c27"/><stop offset="0.1375" stop-color="#d32c27"/><stop offset="0.1394" stop-color="#d22b27"/><stop offset="0.1413" stop-color="#d12a27"/><stop offset="0.1431" stop-color="#d02927"/><stop offset="0.1450" stop-color="#ce2827"/><stop offset="0.1468" stop-color="#cd2727"/><stop offset="0.1487" stop-color="#cd2627"/><stop offset="0.1506" stop-color="#cd2627"/><stop offset="0.1524" stop-color="#cd2627"/><stop offset="0.1543" stop-color="#cd2627"/><stop offset="0.1561" stop-color="#d12a27"/><stop offset="0.1580" stop-color="#dd3c2d"/><stop offset="0.1599" stop-color="#e0422f"/><stop offset="0.1617" stop-color="#e0422f"/><stop offset="0.1636" stop-color="#e0422f"/><stop offset="0.1654" stop-color="#e0422f"/><stop offset="0.1673" stop-color="#e0422f"/><stop offset="0.1691" stop-color="#e0422f"/><stop offset="0.1710" stop-color="#df412f"/><stop offset="0.1729" stop-color="#dd3d2d"/><stop offset="0.1747" stop-color="#dd3d2d"/><stop offset="0.1766" stop-color="#de3e2d"/><stop offset="0.1784" stop-color="#de3f2e"/><stop offset="0.1803" stop-color="#de3f2e"/><stop offset="0.1822" stop-color="#df402e"/><stop offset="0.1840" stop-color="#df412f"/><stop offset="0.1859" stop-color="#df412f"/><stop offset="0.1877" stop-color="#e0422f"/><stop offset="0.1896" stop-color="#e14430"/><stop offset="0.1914" stop-color="#e34932"/><stop offset="0.1933" stop-color="#e54d34"/><stop offset="0.1952" stop-color="#e54e35"/><stop offset="0.1970" stop-color="#e54d34"/><stop offset="0.1989" stop-color="#e44c34"/><stop offset="0.2007" stop-color="#e44b33"/><stop offset="0.2026" stop-color="#e34a33"/><stop offset="0.2045" stop-color="#e34933"/><stop offset="0.2063" stop-color="#e24832"/><stop offset="0.2082" stop-color="#e0422f"/><stop offset="0.2100" stop-color="#dd3c2c"/><stop offset="0.2119" stop-color="#da352a"/><stop offset="0.2138" stop-color="#d73027"/><stop offset="0.2156" stop-color="#d52e27"/><stop offset="0.2175" stop-color="#d22c27"/><stop offset="0.2193" stop-color="#d02a27"/><stop offset="0.2212" stop-color="#ce2827"/><stop offset="0.2230" stop-color="#c92327"/><stop offset="0.2249" stop-color="#be1827"/><stop offset="0.2268" stop-color="#b91326"/><stop offset="0.2286" stop-color="#ba1426"/><stop offset="0.2305" stop-color="#ba1526"/><stop offset="0.2323" stop-color="#bb1526"/><stop offset="0.2342" stop-color="#bc1626"/><stop offset="0.2361" stop-color="#bc1626"/><stop offset="0.2379" stop-color="#bd1726"/><stop offset="0.2398" stop-color="#bd1726"/><stop offset="0.2416" stop-color="#bd1726"/><stop offset="0.2435" stop-color="#b71126"/><stop offset="0.2454" stop-color="#b00a26"/><stop offset="0.2472" stop-color="#af0a26"/><stop offset="0.2491" stop-color="#af0a26"/><stop offset="0.2509" stop-color="#d22b27"/><stop offset="0.2528" stop-color="#e0422f"/><stop offset="0.2546" stop-color="#e0422f"/><stop offset="0.2565" stop-color="#e0422f"/><stop offset="0.2584" stop-color="#e0422f"/><stop offset="0.2602" stop-color="#e0422f"/><stop offset="0.2621" stop-color="#e0422f"/><stop offset="0.2639" stop-color="#e0422f"/><stop offset="0.2658" stop-color="#e0422f"/><stop offset="0.2677" stop-color="#de3f2e"/><stop offset="0.2695" stop-color="#db382b"/><stop offset="0.2714" stop-color="#d83228"/><stop offset="0.2732" stop-color="#db392b"/><stop offset="0.2751" stop-color="#e14631"/><stop offset="0.2770" stop-color="#e75237"/><stop offset="0.2788" stop-color="#eb5a3a"/><stop offset="0.2807" stop-color="#ee603d"/><stop offset="0.2825" stop-color="#f16740"/><stop offset="0.2844" stop-color="#f36b42"/><stop offset="0.2862" stop-color="#ef633e"/><stop offset="0.2881" stop-color="#eb5a3a"/><stop offset="0.2900" stop-color="#e95638"/><stop offset="0.2918" stop-color="#e75236"/><stop offset="0.2937" stop-color="#e75136"/><stop offset="0.2955" stop-color="#e95739"/><stop offset="0.2974" stop-color="#ec5d3c"/><stop offset="0.2993" stop-color="#f36c42"/><stop offset="0.3011" stop-color="#f8874f"/><stop offset="0.3030" stop-color="#fa9656"/><stop offset="0.3048" stop-color="#fa9b58"/><stop offset="0.3067" stop-color="#fb9f5a"/><stop offset="0.3086" stop-color="#fca45c"/><stop offset="0.3104" stop-color="#fca95e"/><stop offset="0.3123" stop-color="#fdad60"/><stop offset="0.3141" stop-color="#fcaa5f"/><stop offset="0.3160" stop-color="#fca65d"/><stop offset="0.3178" stop-color="#fba35c"/><stop offset="0.3197" stop-color="#fdb063"/><stop offset="0.3216" stop-color="#fdbc6e"/><stop offset="0.3234" stop-color="#fdc678"/><stop offset="0.3253" stop-color="#fec879"/><stop offset="0.3271" stop-color="#fec97a"/><stop offset="0.3290" stop-color="#fec97b"/><stop offset="0.3309" stop-color="#feca7b"/><stop offset="0.3327" stop-color="#fecb7c"/><stop offset="0.3346" stop-color="#fecc7d"/><stop offset="0.3364" stop-color="#fecc7d"/><stop offset="0.3383" stop-color="#fecc7d"/><stop offset="0.3401" stop-color="#fecc7d"/><stop offset="0.3420" stop-color="#fdc577"/><stop offset="0.3439" stop-color="#fdb366"/><stop offset="0.3457" stop-color="#fdb86b"/><stop offset="0.3476" stop-color="#fdc072"/><stop offset="0.3494" stop-color="#fed283"/><stop offset="0.3513" stop-color="#feda8a"/><stop offset="0.3532" stop-color="#fec97b"/><stop offset="0.3550" stop-color="#fdc475"/><stop offset="0.3569" stop-color="#fed686"/><stop offset="0.3587" stop-color="#fee191"/><stop offset="0.3606" stop-color="#fee294"/><stop offset="0.3625" stop-color="#fee496"/><stop offset="0.3643" stop-color="#fee698"/><stop offset="0.3662" stop-color="#fee597"/><stop offset="0.3680" stop-color="#fee293"/><stop offset="0.3699" stop-color="#fff1aa"/><stop offset="0.3717" stop-color="#ceeaf3"/><stop offset="0.3736" stop-color="#b0dbea"/><stop offset="0.3755" stop-color="#a8d7e8"/><stop offset="0.3773" stop-color="#a1d1e5"/><stop offset="0.3792" stop-color="#a2d1e5"/><stop offset="0.3810" stop-color="#a3d3e6"/><stop offset="0.3829" stop-color="#a5d4e6"/><stop offset="0.3848" stop-color="#a7d5e7"/><stop offset="0.3866" stop-color="#a8d7e8"/><stop offset="0.3885" stop-color="#aad8e8"/><stop offset="0.3903" stop-color="#90c4dd"/><stop offset="0.3922" stop-color="#4a7ab7"/><stop offset="0.3941" stop-color="#3b55a4"/><stop offset="0.3959" stop-color="#37499e"/><stop offset="0.3978" stop-color="#37499e"/><stop offset="0.3996" stop-color="#37499e"/><stop offset="0.4015" stop-color="#37499e"/><stop offset="0.4033" stop-color="#37499e"/><stop offset="0.4052" stop-color="#37499e"/><stop offset="0.4071" stop-color="#374a9f"/><stop offset="0.4089" stop-color="#3e60a9"/><stop offset="0.4108" stop-color="#4a7bb7"/><stop offset="0.4126" stop-color="#5385bc"/><stop offset="0.4145" stop-color="#588bbf"/><stop offset="0.4164" stop-color="#5b8fc1"/><stop offset="0.4182" stop-color="#5082bb"/><stop offset="0.4201" stop-color="#4676b5"/><stop offset="0.4219" stop-color="#4575b4"/><stop offset="0.4238" stop-color="#4575b4"/><stop offset="0.4257" stop-color="#4575b4"/><stop offset="0.4275" stop-color="#4b7cb8"/><stop offset="0.4294" stop-color="#5e93c4"/><stop offset="0.4312" stop-color="#689fca"/><stop offset="0.4331" stop-color="#6297c6"/><stop offset="0.4349" stop-color="#5b8fc2"/><stop offset="0.4368" stop-color="#5082bb"/><stop offset="0.4387" stop-color="#4370b2"/><stop offset="0.4405" stop-color="#3e5ea9"/><stop offset="0.4424" stop-color="#394ea1"/><stop offset="0.4442" stop-color="#37499e"/><stop offset="0.4461" stop-color="#37499e"/><stop offset="0.4480" stop-color="#37499e"/><stop offset="0.4498" stop-color="#37499e"/><stop offset="0.4517" stop-color="#37499e"/><stop offset="0.4535" stop-color="#3a53a3"/><stop offset="0.4554" stop-color="#6ca4cc"/><stop offset="0.4572" stop-color="#92c5de"/><stop offset="0.4591" stop-color="#97c9e0"/><stop offset="0.4610" stop-color="#9ccde3"/><stop offset="0.4628" stop-color="#99cbe1"/><stop offset="0.4647" stop-color="#83b9d8"/><stop offset="0.4665" stop-color="#74add1"/><stop offset="0.4684" stop-color="#74add1"/><stop offset="0.4703" stop-color="#74add1"/><stop offset="0.4721" stop-color="#83b9d7"/><stop offset="0.4740" stop-color="#9ecfe3"/><stop offset="0.4758" stop-color="#a5d5e7"/><stop offset="0.4777" stop-color="#abd9e9"/><stop offset="0.4796" stop-color="#afdbea"/><stop offset="0.4814" stop-color="#b4ddeb"/><stop offset="0.4833" stop-color="#a8d7e8"/><stop offset="0.4851" stop-color="#95c8e0"/><stop offset="0.4870" stop-color="#8abfdb"/><stop offset="0.4888" stop-color="#8abfdb"/><stop offset="0.4907" stop-color="#8abfdb"/><stop offset="0.4926" stop-color="#8abfdb"/><stop offset="0.4944" stop-color="#8ec2dc"/><stop offset="0.4963" stop-color="#a3d3e6"/><stop offset="0.4981" stop-color="#bae0ed"/><stop offset="0.5000" stop-color="#d0ebf4"/><stop offset="0.5019" stop-color="#f1f9d9"/><stop offset="0.5037" stop-color="#fee395"/><stop offset="0.5056" stop-color="#fede8e"/><stop offset="0.5074" stop-color="#fedc8c"/><stop offset="0.5093" stop-color="#feda8a"/><stop offset="0.5112" stop-color="#fed888"/><stop offset="0.5130" stop-color="#fee597"/><stop offset="0.5149" stop-color="#f8fccc"/><stop offset="0.5167" stop-color="#f7fcce"/><stop offset="0.5186" stop-color="#f6fbd0"/><stop offset="0.5204" stop-color="#f4fbd2"/><stop offset="0.5223" stop-color="#f3fbd4"/><stop offset="0.5242" stop-color="#f4fbd4"/><stop offset="0.5260" stop-color="#f7fccd"/><stop offset="0.5279" stop-color="#fbfdc6"/><stop offset="0.5297" stop-color="#fdfec3"/><stop offset="0.5316" stop-color="#eef9dd"/><stop offset="0.5335" stop-color="#e6f5ed"/><stop offset="0.5353" stop-color="#e5f5ef"/><stop offset="0.5372" stop-color="#e4f5f0"/><stop offset="0.5390" stop-color="#e3f4f2"/><stop offset="0.5409" stop-color="#e3f4f3"/><stop offset="0.5428" stop-color="#e2f4f5"/><stop offset="0.5446" stop-color="#e1f3f6"/><stop offset="0.5465" stop-color="#e3f4f2"/><stop offset="0.5483" stop-color="#fff7b2"/><stop offset="0.5502" stop-color="#fed687"/><stop offset="0.5520" stop-color="#fdc173"/><stop offset="0.5539" stop-color="#fdbe70"/><stop offset="0.5558" stop-color="#fec97a"/><stop offset="0.5576" stop-color="#fed485"/><stop offset="0.5595" stop-color="#fee191"/><stop offset="0.5613" stop-color="#fee79a"/><stop offset="0.5632" stop-color="#fee99e"/><stop offset="0.5651" stop-color="#feeca2"/><stop offset="0.5669" stop-color="#feeea6"/><stop offset="0.5688" stop-color="#fff7b3"/><stop offset="0.5706" stop-color="#f6fccf"/><stop offset="0.5725" stop-color="#eff9dc"/><stop offset="0.5743" stop-color="#eff9dc"/><stop offset="0.5762" stop-color="#edf8df"/><stop offset="0.5781" stop-color="#9dcee3"/><stop offset="0.5799" stop-color="#4777b5"/><stop offset="0.5818" stop-color="#436db0"/><stop offset="0.5836" stop-color="#4168ad"/><stop offset="0.5855" stop-color="#3f62aa"/><stop offset="0.5874" stop-color="#3d5ca8"/><stop offset="0.5892" stop-color="#3b55a4"/><stop offset="0.5911" stop-color="#394fa1"/><stop offset="0.5929" stop-color="#384ca0"/><stop offset="0.5948" stop-color="#3b55a4"/><stop offset="0.5967" stop-color="#3f61aa"/><stop offset="0.5985" stop-color="#3f63ab"/><stop offset="0.6004" stop-color="#3a53a3"/><stop offset="0.6022" stop-color="#37499e"/><stop offset="0.6041" stop-color="#37489e"/><stop offset="0.6059" stop-color="#36479d"/><stop offset="0.6078" stop-color="#36469d"/><stop offset="0.6097" stop-color="#36469d"/><stop offset="0.6115" stop-color="#36459c"/><stop offset="0.6134" stop-color="#36449c"/><stop offset="0.6152" stop-color="#35439c"/><stop offset="0.6171" stop-color="#36459c"/><stop offset="0.6190" stop-color="#4066ad"/><stop offset="0.6208" stop-color="#588cc0"/><stop offset="0.6227" stop-color="#6fa7ce"/><stop offset="0.6245" stop-color="#669cc8"/><stop offset="0.6264" stop-color="#588bc0"/><stop offset="0.6283" stop-color="#4d7fb9"/><stop offset="0.6301" stop-color="#4777b5"/><stop offset="0.6320" stop-color="#4b7cb7"/><stop offset="0.6338" stop-color="#5082bb"/><stop offset="0.6357" stop-color="#5587be"/><stop offset="0.6375" stop-color="#5b8fc2"/><stop offset="0.6394" stop-color="#659bc8"/><stop offset="0.6413" stop-color="#6fa7ce"/><stop offset="0.6431" stop-color="#7fb6d6"/><stop offset="0.6450" stop-color="#90c3dd"/><stop offset="0.6468" stop-color="#7db4d5"/><stop offset="0.6487" stop-color="#6ba2cb"/><stop offset="0.6506" stop-color="#5c91c2"/><stop offset="0.6524" stop-color="#598dc0"/><stop offset="0.6543" stop-color="#5a8ec1"/><stop offset="0.6561" stop-color="#5c90c2"/><stop offset="0.6580" stop-color="#5d92c3"/><stop offset="0.6599" stop-color="#5e93c4"/><stop offset="0.6617" stop-color="#6095c5"/><stop offset="0.6636" stop-color="#649ac7"/><stop offset="0.6654" stop-color="#76afd2"/><stop offset="0.6673" stop-color="#9dcee3"/><stop offset="0.6691" stop-color="#eaf7e6"/><stop offset="0.6710" stop-color="#f2fad8"/><stop offset="0.6729" stop-color="#f4fbd4"/><stop offset="0.6747" stop-color="#f6fbd0"/><stop offset="0.6766" stop-color="#f8fccd"/><stop offset="0.6784" stop-color="#fff7b3"/><stop offset="0.6803" stop-color="#fee496"/><stop offset="0.6822" stop-color="#fede8e"/><stop offset="0.6840" stop-color="#fecd7e"/><stop offset="0.6859" stop-color="#fdae61"/><stop offset="0.6877" stop-color="#fdad61"/><stop offset="0.6896" stop-color="#f0643f"/><stop offset="0.6914" stop-color="#cc2527"/><stop offset="0.6933" stop-color="#b61026"/><stop offset="0.6952" stop-color="#b61026"/><stop offset="0.6970" stop-color="#b81226"/><stop offset="0.6989" stop-color="#bd1726"/><stop offset="0.7007" stop-color="#c72127"/><stop offset="0.7026" stop-color="#cb2527"/><stop offset="0.7045" stop-color="#c82127"/><stop offset="0.7063" stop-color="#c41e27"/><stop offset="0.7082" stop-color="#bf1927"/><stop offset="0.7100" stop-color="#b81226"/><stop offset="0.7119" stop-color="#b10c26"/><stop offset="0.7138" stop-color="#b00b26"/><stop offset="0.7156" stop-color="#b20d26"/><stop offset="0.7175" stop-color="#b61026"/><stop offset="0.7193" stop-color="#ca2427"/><stop offset="0.7212" stop-color="#d73027"/><stop offset="0.7230" stop-color="#d73027"/><stop offset="0.7249" stop-color="#d73027"/><stop offset="0.7268" stop-color="#d73027"/><stop offset="0.7286" stop-color="#d73027"/><stop offset="0.7305" stop-color="#d73027"/><stop offset="0.7323" stop-color="#d73027"/><stop offset="0.7342" stop-color="#d73027"/><stop offset="0.7361" stop-color="#d83228"/><stop offset="0.7379" stop-color="#da362a"/><stop offset="0.7398" stop-color="#dc3a2c"/><stop offset="0.7416" stop-color="#de3f2e"/><stop offset="0.7435" stop-color="#e04430"/><stop offset="0.7454" stop-color="#e34832"/><stop offset="0.7472" stop-color="#e54d34"/><stop offset="0.7491" stop-color="#e75236"/><stop offset="0.7509" stop-color="#e95638"/><stop offset="0.7528" stop-color="#ec5c3b"/><stop offset="0.7546" stop-color="#f67948"/><stop offset="0.7565" stop-color="#f88e52"/><stop offset="0.7584" stop-color="#f88e52"/><stop offset="0.7602" stop-color="#f46f44"/><stop offset="0.7621" stop-color="#df402f"/><stop offset="0.7639" stop-color="#dd3c2d"/><stop offset="0.7658" stop-color="#dd3c2d"/><stop offset="0.7677" stop-color="#dd3c2d"/><stop offset="0.7695" stop-color="#dd3c2d"/><stop offset="0.7714" stop-color="#dd3c2d"/><stop offset="0.7732" stop-color="#dd3c2d"/><stop offset="0.7751" stop-color="#dd3c2d"/><stop offset="0.7770" stop-color="#dd3c2d"/><stop offset="0.7788" stop-color="#dd3c2d"/><stop offset="0.7807" stop-color="#dd3c2d"/><stop offset="0.7825" stop-color="#da362a"/><stop offset="0.7844" stop-color="#d32d27"/><stop offset="0.7862" stop-color="#d02927"/><stop offset="0.7881" stop-color="#d73027"/><stop offset="0.7900" stop-color="#dc3b2c"/><stop offset="0.7918" stop-color="#e54d34"/><stop offset="0.7937" stop-color="#ed5e3c"/><stop offset="0.7955" stop-color="#ef633e"/><stop offset="0.7974" stop-color="#f0643f"/><stop offset="0.7993" stop-color="#f16640"/><stop offset="0.8011" stop-color="#f26841"/><stop offset="0.8030" stop-color="#f36a42"/><stop offset="0.8048" stop-color="#f36c42"/><stop offset="0.8067" stop-color="#f16640"/><stop offset="0.8086" stop-color="#e65036"/><stop offset="0.8104" stop-color="#df422f"/><stop offset="0.8123" stop-color="#de3f2e"/><stop offset="0.8141" stop-color="#dd3d2d"/><stop offset="0.8160" stop-color="#e24631"/><stop offset="0.8178" stop-color="#eb593a"/><stop offset="0.8197" stop-color="#ee613d"/><stop offset="0.8216" stop-color="#ee613d"/><stop offset="0.8234" stop-color="#ee613d"/><stop offset="0.8253" stop-color="#ee603d"/><stop offset="0.8271" stop-color="#ec5c3b"/><stop offset="0.8290" stop-color="#e95538"/><stop offset="0.8309" stop-color="#e64f35"/><stop offset="0.8327" stop-color="#e24832"/><stop offset="0.8346" stop-color="#df402e"/><stop offset="0.8364" stop-color="#da372a"/><stop offset="0.8383" stop-color="#d93328"/><stop offset="0.8401" stop-color="#de3f2e"/><stop offset="0.8420" stop-color="#e44b34"/><stop offset="0.8439" stop-color="#ea5839"/><stop offset="0.8457" stop-color="#f0653f"/><stop offset="0.8476" stop-color="#f46e43"/><stop offset="0.8494" stop-color="#f57145"/><stop offset="0.8513" stop-color="#f57446"/><stop offset="0.8532" stop-color="#f57748"/><stop offset="0.8550" stop-color="#f98f53"/><stop offset="0.8569" stop-color="#feca7b"/><stop offset="0.8587" stop-color="#fed485"/><stop offset="0.8606" stop-color="#fff2ab"/><stop offset="0.8625" stop-color="#f6fccf"/><stop offset="0.8643" stop-color="#e6f5ed"/><stop offset="0.8662" stop-color="#e1f3f6"/><stop offset="0.8680" stop-color="#daf0f6"/><stop offset="0.8699" stop-color="#d3ecf4"/><stop offset="0.8717" stop-color="#cbe9f2"/><stop offset="0.8736" stop-color="#c4e5f0"/><stop offset="0.8755" stop-color="#c4e5f0"/><stop offset="0.8773" stop-color="#cce9f2"/><stop offset="0.8792" stop-color="#d3edf4"/><stop offset="0.8810" stop-color="#d9f0f6"/><stop offset="0.8829" stop-color="#ddf1f7"/><stop offset="0.8848" stop-color="#bee2ee"/><stop offset="0.8866" stop-color="#93c6df"/><stop offset="0.8885" stop-color="#89bdda"/><stop offset="0.8903" stop-color="#87bcd9"/><stop offset="0.8922" stop-color="#85bbd9"/><stop offset="0.8941" stop-color="#84bad8"/><stop offset="0.8959" stop-color="#82b8d7"/><stop offset="0.8978" stop-color="#80b7d6"/><stop offset="0.8996" stop-color="#82b8d7"/><stop offset="0.9015" stop-color="#8dc1dc"/><stop offset="0.9033" stop-color="#92c5de"/><stop offset="0.9052" stop-color="#8bbfdb"/><stop offset="0.9071" stop-color="#83b9d8"/><stop offset="0.9089" stop-color="#7db4d5"/><stop offset="0.9108" stop-color="#77afd2"/><stop offset="0.9126" stop-color="#71aacf"/><stop offset="0.9145" stop-color="#6da4cc"/><stop offset="0.9164" stop-color="#6ba2cb"/><stop offset="0.9182" stop-color="#6ba2cb"/><stop offset="0.9201" stop-color="#6ba2cb"/><stop offset="0.9219" stop-color="#6ba2cc"/><stop offset="0.9238" stop-color="#73abd0"/><stop offset="0.9257" stop-color="#7db4d5"/><stop offset="0.9275" stop-color="#7cb3d4"/><stop offset="0.9294" stop-color="#78b0d3"/><stop offset="0.9312" stop-color="#72aad0"/><stop offset="0.9331" stop-color="#5f94c4"/><stop offset="0.9349" stop-color="#588bc0"/><stop offset="0.9368" stop-color="#588bc0"/><stop offset="0.9387" stop-color="#588bc0"/><stop offset="0.9405" stop-color="#588bc0"/><stop offset="0.9424" stop-color="#598dc1"/><stop offset="0.9442" stop-color="#6ea6ce"/><stop offset="0.9461" stop-color="#89beda"/><stop offset="0.9480" stop-color="#a0d0e4"/><stop offset="0.9498" stop-color="#bee3ef"/><stop offset="0.9517" stop-color="#dcf1f7"/><stop offset="0.9535" stop-color="#dbf1f7"/><stop offset="0.9554" stop-color="#d6eef5"/><stop offset="0.9572" stop-color="#c2e4ef"/><stop offset="0.9591" stop-color="#a6d5e7"/><stop offset="0.9610" stop-color="#97c9e0"/><stop offset="0.9628" stop-color="#8bbfdb"/><stop offset="0.9647" stop-color="#81b7d7"/><stop offset="0.9665" stop-color="#82b8d7"/><stop offset="0.9684" stop-color="#85bad8"/><stop offset="0.9703" stop-color="#88bdda"/><stop offset="0.9721" stop-color="#8cc0dc"/><stop offset="0.9740" stop-color="#97c9e0"/><stop offset="0.9758" stop-color="#9dcee3"/><stop offset="0.9777" stop-color="#96c9e0"/><stop offset="0.9796" stop-color="#8fc2dd"/><stop offset="0.9814" stop-color="#8abfdb"/><stop offset="0.9833" stop-color="#8abfdb"/><stop offset="0.9851" stop-color="#8abfdb"/><stop offset="0.9870" stop-color="#8abfdb"/><stop offset="0.9888" stop-color="#78b1d3"/><stop offset="0.9907" stop-color="#649ac7"/><stop offset="0.9926" stop-color="#669cc8"/><stop offset="0.9944" stop-color="#6aa1cb"/><stop offset="0.9963" stop-color="#7bb2d4"/><stop offset="0.9981" stop-color="#8abeda"/><stop offset="1.0000" stop-color="#8abfdb"/></linearGradient>
<linearGradient id="cb" x1="0" x2="0" y1="0" y2="1"><stop offset="0.00" stop-color="#313695"/><stop offset="0.10" stop-color="#4575b4"/><stop offset="0.20" stop-color="#74add1"/><stop offset="0.30" stop-color="#abd9e9"/><stop offset="0.40" stop-color="#e0f3f8"/><stop offset="0.50" stop-color="#ffffbf"/><stop offset="0.60" stop-color="#fee090"/><stop offset="0.70" stop-color="#fdae61"/><stop offset="0.80" stop-color="#f46d43"/><stop offset="0.90" stop-color="#d73027"/><stop offset="1.00" stop-color="#a50026"/></linearGradient>
<filter id="b" x="0" y="0" width="966" height="421" filterUnits="userSpaceOnUse"><feGaussianBlur stdDeviation="0.35"/></filter></defs>
<rect x="0" y="0" width="966" height="421" fill="#1a1a1a"/>
<rect x="6" y="6" width="954" height="409" fill="#ffffff"/>
<rect x="72.00" y="96.00" width="807.00" height="20.17" fill="url(#r0)"/>
<rect x="72.00" y="115.17" width="807.00" height="20.17" fill="url(#r1)"/>
<rect x="72.00" y="134.33" width="807.00" height="20.17" fill="url(#r2)"/>
<rect x="72.00" y="153.50" width="807.00" height="20.17" fill="url(#r3)"/>
<rect x="72.00" y="172.67" width="807.00" height="20.17" fill="url(#r4)"/>
<rect x="72.00" y="191.83" width="807.00" height="19.17" fill="url(#r5)"/>
<text x="354.5" y="162.6" font-size="49.5" fill="#30343c" stroke="#30343c" stroke-width="1.2" opacity="0.07" textLength="243" lengthAdjust="spacingAndGlyphs">glassnode</text>
<rect x="902" y="102.3" width="19.3" height="258" fill="url(#cb)"/>
<rect x="72" y="251.4" width="807" height="115.2" fill="#e5ecf6"/>
<text x="354.5" y="325.8" font-size="49.5" fill="#30343c" stroke="#30343c" stroke-width="1.2" opacity="0.10" textLength="243" lengthAdjust="spacingAndGlyphs">glassnode</text>
<line x1="100.5" x2="100.5" y1="251.4" y2="366.6" stroke="#fff" stroke-opacity="0.88" stroke-width="1.1"/>
<line x1="176.3" x2="176.3" y1="251.4" y2="366.6" stroke="#fff" stroke-opacity="0.88" stroke-width="1.1"/>
<line x1="259.6" x2="259.6" y1="251.4" y2="366.6" stroke="#fff" stroke-opacity="0.88" stroke-width="1.1"/>
<line x1="340.6" x2="340.6" y1="251.4" y2="366.6" stroke="#fff" stroke-opacity="0.88" stroke-width="1.1"/>
<line x1="424.3" x2="424.3" y1="251.4" y2="366.6" stroke="#fff" stroke-opacity="0.88" stroke-width="1.1"/>
<line x1="505.5" x2="505.5" y1="251.4" y2="366.6" stroke="#fff" stroke-opacity="0.88" stroke-width="1.1"/>
<line x1="588.4" x2="588.4" y1="251.4" y2="366.6" stroke="#fff" stroke-opacity="0.88" stroke-width="1.1"/>
<line x1="672.4" x2="672.4" y1="251.4" y2="366.6" stroke="#fff" stroke-opacity="0.88" stroke-width="1.1"/>
<line x1="753.5" x2="753.5" y1="251.4" y2="366.6" stroke="#fff" stroke-opacity="0.88" stroke-width="1.1"/>
<line x1="837.2" x2="837.2" y1="251.4" y2="366.6" stroke="#fff" stroke-opacity="0.88" stroke-width="1.1"/>
<line x1="72" x2="879" y1="267.4" y2="267.4" stroke="#fff" stroke-opacity="0.88" stroke-width="1.1"/>
<line x1="72" x2="879" y1="288.8" y2="288.8" stroke="#fff" stroke-opacity="0.88" stroke-width="1.1"/>
<line x1="72" x2="879" y1="310.2" y2="310.2" stroke="#fff" stroke-opacity="0.88" stroke-width="1.1"/>
<line x1="72" x2="879" y1="331.6" y2="331.6" stroke="#fff" stroke-opacity="0.88" stroke-width="1.1"/>
<line x1="72" x2="879" y1="353.0" y2="353.0" stroke="#fff" stroke-opacity="0.88" stroke-width="1.1"/>
<path d="M73.3,301.8 L76.0,301.3 L78.8,299.9 L81.4,299.6 L84.1,304.6 L86.8,306.0 L89.5,307.7 L92.2,301.8 L94.9,299.6 L97.6,305.2 L100.3,308.8 L103.0,315.0 L105.8,307.4 L108.4,314.4 L111.2,317.2 L113.8,317.8 L116.5,317.8 L119.2,317.8 L121.9,317.8 L124.7,315.8 L127.3,319.2 L130.1,314.4 L132.8,317.2 L135.4,315.3 L138.2,315.0 L140.8,318.1 L143.6,318.9 L146.2,319.2 L148.9,317.2 L151.7,313.3 L154.3,318.1 L157.1,317.2 L159.8,317.8 L162.4,328.5 L165.2,335.5 L167.8,344.1 L170.6,343.0 L173.2,343.6 L175.9,339.7 L178.7,322.3 L181.3,339.7 L184.1,337.4 L186.8,329.9 L189.4,331.3 L192.2,337.7 L194.9,339.7 L197.6,350.9 L200.2,355.9 L203.0,346.7 L205.7,345.3 L208.3,350.0 L211.1,344.7 L213.8,343.6 L216.5,347.5 L219.2,344.7 L221.8,346.9 L224.6,338.5 L227.2,343.6 L230.0,344.1 L232.7,344.7 L235.3,340.2 L238.1,336.9 L240.8,336.6 L243.5,337.7 L246.2,337.4 L248.8,343.0 L251.6,346.9 L254.2,347.8 L257.0,347.5 L259.6,341.9 L262.4,347.5 L265.1,346.1 L267.8,344.7 L270.5,345.3 L273.1,356.5 L275.9,354.2 L278.6,360.7 L281.2,347.5 L284.0,353.1 L286.6,344.7 L289.4,341.3 L292.1,344.7 L294.8,343.3 L297.5,345.3 L300.1,344.1 L302.9,342.5 L305.6,343.3 L308.2,341.9 L311.0,341.3 L313.6,335.5 L316.4,324.0 L319.1,323.4 L321.8,322.8 L324.5,321.7 L327.1,321.7 L329.9,323.4 L332.6,320.6 L335.2,321.7 L338.0,322.3 L340.6,317.8 L343.4,316.7 L346.1,318.9 L348.8,321.7 L351.5,320.9 L354.1,316.7 L356.9,316.1 L359.6,303.2 L362.2,303.2 L365.0,299.9 L367.6,301.3 L370.4,303.8 L373.1,301.6 L375.8,302.7 L378.5,302.1 L381.1,302.4 L383.9,303.2 L386.6,296.2 L389.2,297.6 L392.0,294.3 L394.6,289.2 L397.4,285.3 L400.1,294.3 L402.8,293.7 L405.5,291.5 L408.1,290.1 L410.9,290.6 L413.6,293.4 L416.2,297.6 L419.0,301.6 L421.6,299.9 L424.4,298.2 L427.1,297.1 L429.8,297.6 L432.5,299.3 L435.1,305.5 L437.9,300.4 L440.6,298.2 L443.2,297.6 L446.0,287.8 L448.6,287.8 L451.4,290.9 L454.1,297.1 L456.8,298.2 L459.5,296.2 L462.1,298.2 L464.9,295.4 L467.6,300.4 L470.2,299.9 L473.0,301.8 L475.6,303.8 L478.4,306.0 L481.1,308.0 L483.8,298.2 L486.5,296.2 L489.1,294.3 L491.9,294.8 L494.6,294.8 L497.2,294.3 L500.0,292.6 L502.6,294.8 L505.4,297.6 L508.1,292.0 L510.8,289.8 L513.5,293.1 L516.1,292.6 L518.9,290.3 L521.6,292.6 L524.2,291.5 L527.0,285.9 L529.6,278.0 L532.4,273.5 L535.1,273.0 L537.8,269.6 L540.5,267.9 L543.1,272.4 L545.9,270.2 L548.6,269.1 L551.2,271.3 L554.0,271.9 L556.6,273.0 L559.4,273.0 L562.1,267.4 L564.8,270.2 L567.5,270.7 L570.1,272.4 L572.9,271.9 L575.6,269.1 L578.2,271.3 L581.0,271.3 L583.6,271.9 L586.4,275.8 L589.1,281.4 L591.8,283.6 L594.5,280.3 L597.2,278.0 L599.9,279.7 L602.6,278.0 L605.3,273.0 L608.0,274.7 L610.7,275.8 L613.4,269.1 L616.1,270.2 L618.8,266.3 L621.5,260.6 L624.2,270.2 L626.9,272.4 L629.6,272.4 L632.3,273.0 L635.0,275.8 L637.7,282.5 L640.4,279.7 L643.1,283.1 L645.8,274.7 L648.5,276.9 L651.2,281.4 L653.9,288.1 L656.6,285.3 L659.3,285.9 L662.0,283.1 L664.7,292.0 L667.4,291.5 L670.1,292.0 L672.8,289.8 L675.5,286.4 L678.2,285.3 L680.9,287.0 L683.6,287.3 L686.3,288.1 L689.0,286.4 L691.7,284.2 L694.4,285.3 L697.1,280.3 L699.8,276.9 L702.5,275.8 L705.2,276.3 L707.9,277.5 L710.6,276.9 L713.3,274.1 L716.0,274.7 L718.7,273.5 L721.4,276.3 L724.1,276.3 L726.8,277.5 L729.5,283.1 L732.2,284.7 L734.9,281.4 L737.6,290.3 L740.3,289.2 L743.0,289.2 L745.7,284.2 L748.4,278.6 L751.1,279.7 L753.8,270.2 L756.5,265.7 L759.2,262.3 L761.9,261.8 L764.6,259.0 L767.3,257.3 L770.0,263.4 L772.7,260.1 L775.4,264.0 L778.1,282.5 L780.8,287.0 L783.5,278.0 L786.2,277.5 L788.9,282.5 L791.6,287.5 L794.3,292.6 L797.0,296.0 L799.7,294.8 L802.4,290.9 L805.1,287.0 L807.8,292.0 L810.5,293.7 L813.2,288.1 L815.9,286.4 L818.6,284.7 L821.3,278.6 L824.0,279.1 L826.7,281.4 L829.4,287.5 L832.1,292.0 L834.8,289.2 L837.5,288.1 L840.2,287.0 L842.9,297.1 L845.6,306.0 L848.3,301.6 L851.0,306.6 L853.7,302.7 L856.4,304.9 L859.1,299.9 L861.8,297.1 L864.5,302.7 L867.2,306.0 L869.9,310.5 L872.6,321.7 L875.3,319.5 L878.0,321.7" fill="none" stroke="#808080" stroke-width="1.6" stroke-linejoin="round"/>
<rect x="944.2" y="16.7" width="7.9" height="7.6" rx="1.6" fill="#fff" stroke="#858585" stroke-width="1.3"/>
<path d="M948.2 18.7H950.5V20.8 M945.5 21.2V23.3H947.8" fill="none" stroke="#1a1a1a" stroke-width="0.85"/>
<g filter="url(#b)">
<text x="66.8" y="63.2" font-size="11.50" text-anchor="start" fill="#2a3f5f" textLength="201.5" lengthAdjust="spacingAndGlyphs" >Trend Accumulation Score by Cohort</text>
<text x="71.2" y="108.2" font-size="8.60" text-anchor="end" fill="#2a3f5f" textLength="20.0" lengthAdjust="spacingAndGlyphs" >&gt;10k</text>
<text x="71.2" y="127.3" font-size="8.60" text-anchor="end" fill="#2a3f5f" textLength="26.0" lengthAdjust="spacingAndGlyphs" >1k-10k</text>
<text x="71.2" y="146.5" font-size="8.60" text-anchor="end" fill="#2a3f5f" textLength="27.0" lengthAdjust="spacingAndGlyphs" >100-1k</text>
<text x="71.2" y="165.7" font-size="8.60" text-anchor="end" fill="#2a3f5f" textLength="27.0" lengthAdjust="spacingAndGlyphs" >10-100</text>
<text x="71.2" y="184.8" font-size="8.60" text-anchor="end" fill="#2a3f5f" textLength="16.8" lengthAdjust="spacingAndGlyphs" >1-10</text>
<text x="71.2" y="204.0" font-size="8.60" text-anchor="end" fill="#2a3f5f" textLength="10.3" lengthAdjust="spacingAndGlyphs" >&lt;1</text>
<text transform="translate(30.8,153.3) rotate(-90)" font-size="9.4" text-anchor="middle" fill="#2a3f5f" textLength="71" lengthAdjust="spacingAndGlyphs">Cohorts by BTC</text>
<text x="923.6" y="105.3" font-size="8.60" text-anchor="start" fill="#2a3f5f" textLength="4.0" lengthAdjust="spacingAndGlyphs" >1</text>
<text x="923.6" y="156.9" font-size="8.60" text-anchor="start" fill="#2a3f5f" textLength="12.0" lengthAdjust="spacingAndGlyphs" >0.8</text>
<text x="923.6" y="208.5" font-size="8.60" text-anchor="start" fill="#2a3f5f" textLength="12.0" lengthAdjust="spacingAndGlyphs" >0.6</text>
<text x="923.6" y="260.1" font-size="8.60" text-anchor="start" fill="#2a3f5f" textLength="12.0" lengthAdjust="spacingAndGlyphs" >0.4</text>
<text x="923.6" y="311.7" font-size="8.60" text-anchor="start" fill="#2a3f5f" textLength="12.0" lengthAdjust="spacingAndGlyphs" >0.2</text>
<text x="923.6" y="363.3" font-size="8.60" text-anchor="start" fill="#2a3f5f" textLength="4.0" lengthAdjust="spacingAndGlyphs" >0</text>
<text x="71.2" y="270.4" font-size="8.60" text-anchor="end" fill="#2a3f5f" textLength="19.0" lengthAdjust="spacingAndGlyphs" >120k</text>
<text x="71.2" y="291.8" font-size="8.60" text-anchor="end" fill="#2a3f5f" textLength="19.0" lengthAdjust="spacingAndGlyphs" >110k</text>
<text x="71.2" y="313.2" font-size="8.60" text-anchor="end" fill="#2a3f5f" textLength="19.0" lengthAdjust="spacingAndGlyphs" >100k</text>
<text x="71.2" y="334.6" font-size="8.60" text-anchor="end" fill="#2a3f5f" textLength="14.5" lengthAdjust="spacingAndGlyphs" >90k</text>
<text x="71.2" y="356.0" font-size="8.60" text-anchor="end" fill="#2a3f5f" textLength="14.5" lengthAdjust="spacingAndGlyphs" >80k</text>
<text transform="translate(38.6,309.2) rotate(-90)" font-size="9.4" text-anchor="middle" fill="#2a3f5f" textLength="21.4" lengthAdjust="spacingAndGlyphs">Price</text>
<text x="100.8" y="375.3" font-size="8.60" text-anchor="middle" fill="#2a3f5f" textLength="35.5" lengthAdjust="spacingAndGlyphs" >Feb 2025</text>
<text x="176.6" y="375.3" font-size="8.60" text-anchor="middle" fill="#2a3f5f" textLength="36.8" lengthAdjust="spacingAndGlyphs" >Mar 2025</text>
<text x="259.9" y="375.3" font-size="8.60" text-anchor="middle" fill="#2a3f5f" textLength="35.5" lengthAdjust="spacingAndGlyphs" >Apr 2025</text>
<text x="340.9" y="375.3" font-size="8.60" text-anchor="middle" fill="#2a3f5f" textLength="37.0" lengthAdjust="spacingAndGlyphs" >May 2025</text>
<text x="424.6" y="375.3" font-size="8.60" text-anchor="middle" fill="#2a3f5f" textLength="35.0" lengthAdjust="spacingAndGlyphs" >Jun 2025</text>
<text x="505.8" y="375.3" font-size="8.60" text-anchor="middle" fill="#2a3f5f" textLength="32.0" lengthAdjust="spacingAndGlyphs" >Jul 2025</text>
<text x="588.7" y="375.3" font-size="8.60" text-anchor="middle" fill="#2a3f5f" textLength="36.5" lengthAdjust="spacingAndGlyphs" >Aug 2025</text>
<text x="672.7" y="375.3" font-size="8.60" text-anchor="middle" fill="#2a3f5f" textLength="36.0" lengthAdjust="spacingAndGlyphs" >Sep 2025</text>
<text x="753.8" y="375.3" font-size="8.60" text-anchor="middle" fill="#2a3f5f" textLength="35.3" lengthAdjust="spacingAndGlyphs" >Oct 2025</text>
<text x="837.5" y="375.3" font-size="8.60" text-anchor="middle" fill="#2a3f5f" textLength="37.0" lengthAdjust="spacingAndGlyphs" >Nov 2025</text>
<text x="73.7" y="396.8" font-size="10.30" text-anchor="start" fill="#aab2bf" textLength="155.0" lengthAdjust="spacingAndGlyphs" >Based on data from 2025-11-17</text>
<text x="876.9" y="396.8" font-size="10.30" text-anchor="end" fill="#aab2bf" textLength="191.3" lengthAdjust="spacingAndGlyphs" >© 2025 Glassnode. All Rights Reserved</text>
</g>
</svg>
</body></html>
